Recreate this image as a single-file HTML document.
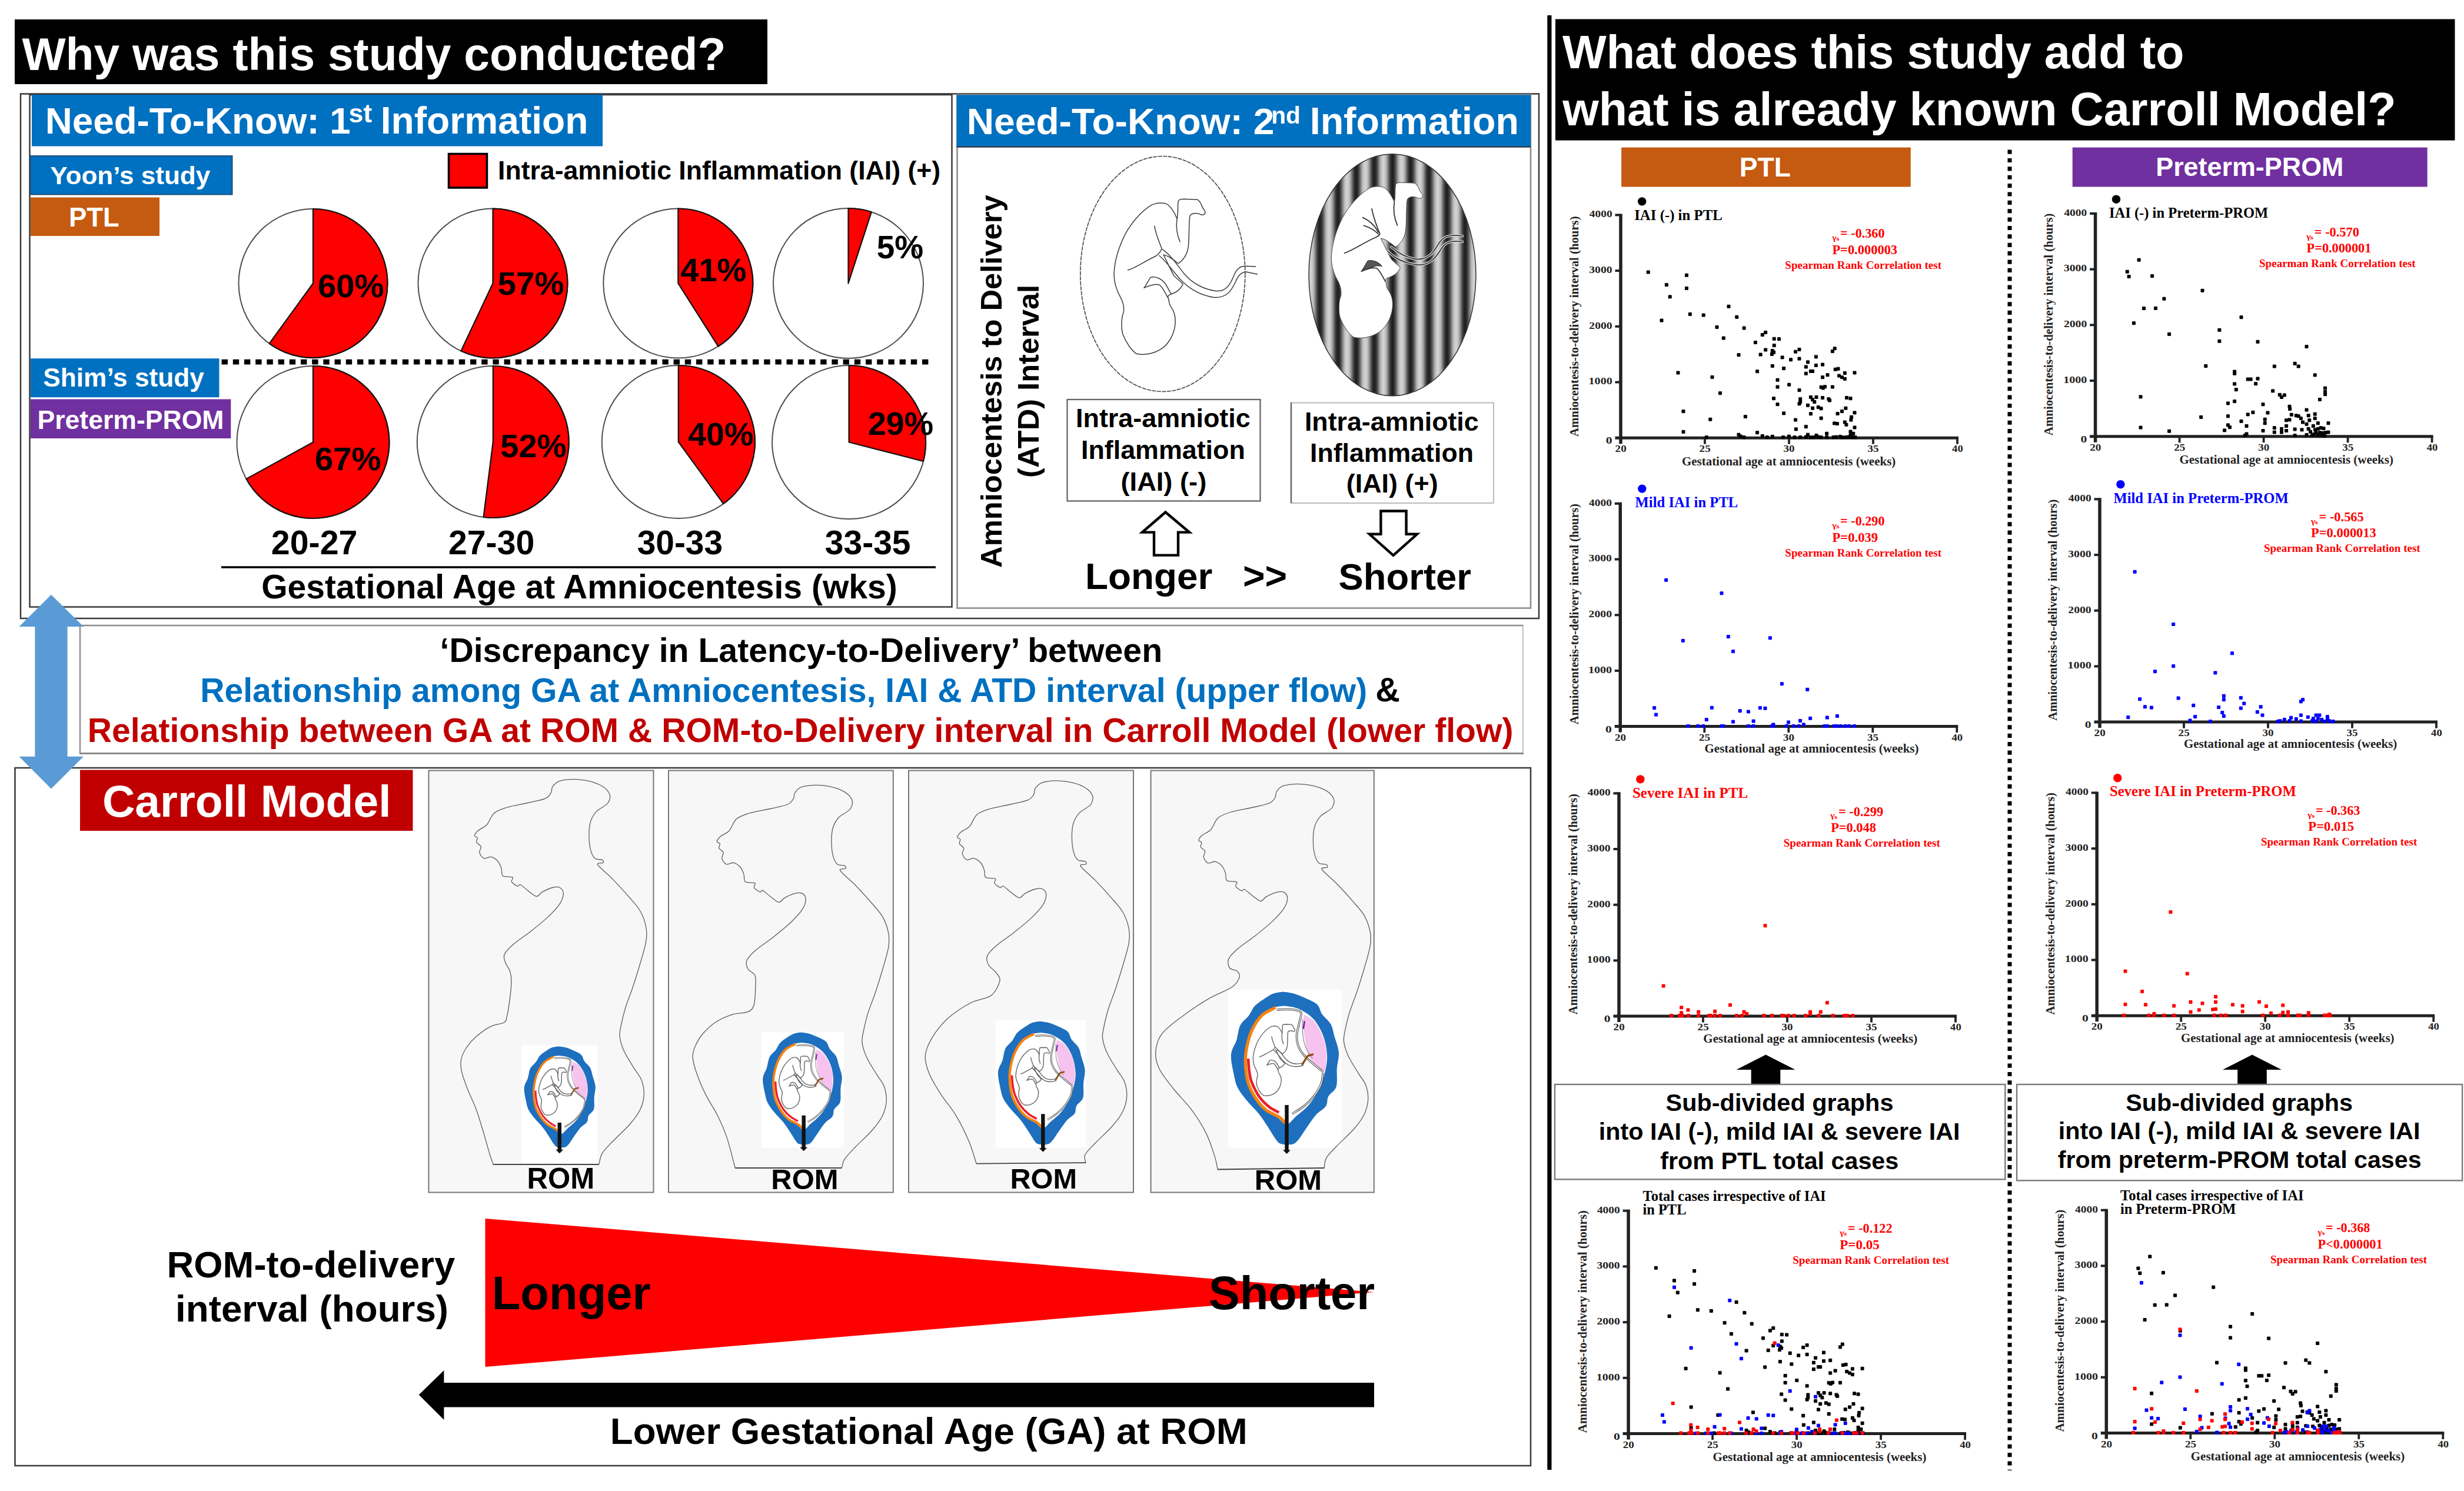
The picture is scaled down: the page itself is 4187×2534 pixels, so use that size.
<!DOCTYPE html>
<html><head><meta charset="utf-8"><title>Graphical abstract</title>
<style>html,body{margin:0;padding:0;background:#fff}svg{display:block}text{white-space:pre}</style></head>
<body><svg width="4187" height="2534" viewBox="0 0 4187 2534">
<rect width="4187" height="2534" fill="#fff"/>
<rect x="25.0" y="33.0" width="1279.0" height="110.0" fill="#000" stroke="none" stroke-width="0" />
<text x="37.4" y="118.5" font-family='"Liberation Sans", sans-serif' font-weight="bold" font-size="78.57" fill="#fff" textLength="1196.1" lengthAdjust="spacingAndGlyphs" >Why was this study conducted?</text>
<rect x="35.0" y="159.5" width="2580.0" height="891.5" fill="none" stroke="#3a3a3a" stroke-width="2.5" />
<rect x="50.5" y="161.0" width="1567.0" height="870.5" fill="none" stroke="#3a3a3a" stroke-width="2.5" />
<rect x="1626.5" y="161.0" width="974.5" height="872.5" fill="none" stroke="#8a8a8a" stroke-width="2.5" />
<rect x="54.0" y="161.0" width="970.0" height="87.5" fill="#0070C0" stroke="none" stroke-width="0" />
<text x="76.8" y="226.5" font-family='"Liberation Sans", sans-serif' font-weight="bold" font-size="63.12" fill="#fff" textLength="519.0" lengthAdjust="spacingAndGlyphs" >Need-To-Know: 1</text>
<text x="592.4" y="207.8" font-family='"Liberation Sans", sans-serif' font-weight="bold" font-size="44.55" fill="#fff" textLength="39.6" lengthAdjust="spacingAndGlyphs" >st</text>
<text x="646.7" y="226.5" font-family='"Liberation Sans", sans-serif' font-weight="bold" font-size="64.15" fill="#fff" textLength="352.8" lengthAdjust="spacingAndGlyphs" >Information</text>
<rect x="1625.5" y="161.5" width="975.5" height="87.5" fill="#0070C0" stroke="none" stroke-width="0" />
<line x1="1625.5" y1="249.8" x2="2601" y2="249.8" stroke="#333" stroke-width="2"/>
<text x="1642.7" y="227.7" font-family='"Liberation Sans", sans-serif' font-weight="bold" font-size="63.59" fill="#fff" textLength="522.8" lengthAdjust="spacingAndGlyphs" >Need-To-Know: 2</text>
<text x="2160.3" y="209.8" font-family='"Liberation Sans", sans-serif' font-weight="bold" font-size="40.37" fill="#fff" textLength="49.3" lengthAdjust="spacingAndGlyphs" >nd</text>
<text x="2225.7" y="227.7" font-family='"Liberation Sans", sans-serif' font-weight="bold" font-size="64.61" fill="#fff" textLength="355.3" lengthAdjust="spacingAndGlyphs" >Information</text>
<rect x="51.5" y="265.0" width="343.0" height="65.5" fill="#0070C0" stroke="#1f4e79" stroke-width="2" />
<text x="85.3" y="313.3" font-family='"Liberation Sans", sans-serif' font-weight="bold" font-size="43.32" fill="#fff" textLength="272.0" lengthAdjust="spacingAndGlyphs" >Yoon’s study</text>
<rect x="52.0" y="335.5" width="219.0" height="65.5" fill="#C55A11" stroke="none" stroke-width="0" />
<text x="117.0" y="384.6" font-family='"Liberation Sans", sans-serif' font-weight="bold" font-size="45.39" fill="#fff" textLength="85.7" lengthAdjust="spacingAndGlyphs" >PTL</text>
<rect x="51.9" y="609.2" width="320.6" height="66.0" fill="#0070C0" stroke="none" stroke-width="0" />
<text x="73.3" y="657.4" font-family='"Liberation Sans", sans-serif' font-weight="bold" font-size="43.95" fill="#fff" textLength="273.5" lengthAdjust="spacingAndGlyphs" >Shim’s study</text>
<rect x="51.9" y="678.5" width="340.4" height="66.5" fill="#7030A0" stroke="none" stroke-width="0" />
<text x="63.5" y="728.8" font-family='"Liberation Sans", sans-serif' font-weight="bold" font-size="44.55" fill="#fff" textLength="316.9" lengthAdjust="spacingAndGlyphs" >Preterm-PROM</text>
<rect x="762.5" y="261.5" width="65.0" height="57.5" fill="#FF0000" stroke="#000" stroke-width="3.5" />
<text x="846.0" y="305.0" font-family='"Liberation Sans", sans-serif' font-weight="bold" font-size="44.61" fill="#000" textLength="752.2" lengthAdjust="spacingAndGlyphs" >Intra-amniotic Inflammation (IAI) (+)</text>
<line x1="376.6" y1="615.2" x2="1586" y2="615.2" stroke="#000" stroke-width="8.8" stroke-dasharray="10.4 8.8"/>
<circle cx="532" cy="481.5" r="126.5" fill="#fff" stroke="#4d4d4d" stroke-width="2"/><path d="M532,481.5 L532,355.0 A126.5,126.5 0 1 1 457.6,583.8 Z" fill="#FF0000" stroke="#111" stroke-width="2.2" stroke-linejoin="round"/>
<circle cx="837.5" cy="481.5" r="127" fill="#fff" stroke="#4d4d4d" stroke-width="2"/><path d="M837.5,481.5 L837.5,354.5 A127,127 0 1 1 783.4,596.4 Z" fill="#FF0000" stroke="#111" stroke-width="2.2" stroke-linejoin="round"/>
<circle cx="1152.3" cy="481.5" r="127" fill="#fff" stroke="#4d4d4d" stroke-width="2"/><path d="M1152.3,481.5 L1152.3,354.5 A127,127 0 0 1 1220.4,588.7 Z" fill="#FF0000" stroke="#111" stroke-width="2.2" stroke-linejoin="round"/>
<circle cx="1441.5" cy="481.5" r="127.5" fill="#fff" stroke="#4d4d4d" stroke-width="2"/><path d="M1441.5,481.5 L1441.5,354.0 A127.5,127.5 0 0 1 1480.9,360.2 Z" fill="#FF0000" stroke="#111" stroke-width="2.2" stroke-linejoin="round"/>
<circle cx="532" cy="751.5" r="129.5" fill="#fff" stroke="#4d4d4d" stroke-width="2"/><path d="M532,751.5 L532,622.0 A129.5,129.5 0 1 1 418.5,813.9 Z" fill="#FF0000" stroke="#111" stroke-width="2.2" stroke-linejoin="round"/>
<circle cx="837.8" cy="751" r="129" fill="#fff" stroke="#4d4d4d" stroke-width="2"/><path d="M837.8,751 L837.8,622 A129,129 0 1 1 821.6,879.0 Z" fill="#FF0000" stroke="#111" stroke-width="2.2" stroke-linejoin="round"/>
<circle cx="1152.8" cy="751" r="130" fill="#fff" stroke="#4d4d4d" stroke-width="2"/><path d="M1152.8,751 L1152.8,621 A130,130 0 0 1 1229.2,856.2 Z" fill="#FF0000" stroke="#111" stroke-width="2.2" stroke-linejoin="round"/>
<circle cx="1442.6" cy="751.5" r="130.5" fill="#fff" stroke="#4d4d4d" stroke-width="2"/><path d="M1442.6,751.5 L1442.6,621.0 A130.5,130.5 0 0 1 1569.0,784.0 Z" fill="#FF0000" stroke="#111" stroke-width="2.2" stroke-linejoin="round"/>
<text x="539.9" y="505.0" font-family='"Liberation Sans", sans-serif' font-weight="bold" font-size="56.23" fill="#000" textLength="112.5" lengthAdjust="spacingAndGlyphs" >60%</text>
<text x="845.8" y="500.5" font-family='"Liberation Sans", sans-serif' font-weight="bold" font-size="56.32" fill="#000" textLength="112.7" lengthAdjust="spacingAndGlyphs" >57%</text>
<text x="1156.2" y="477.7" font-family='"Liberation Sans", sans-serif' font-weight="bold" font-size="56.12" fill="#000" textLength="112.3" lengthAdjust="spacingAndGlyphs" >41%</text>
<text x="1489.7" y="438.8" font-family='"Liberation Sans", sans-serif' font-weight="bold" font-size="54.96" fill="#000" textLength="79.4" lengthAdjust="spacingAndGlyphs" >5%</text>
<text x="534.9" y="799.0" font-family='"Liberation Sans", sans-serif' font-weight="bold" font-size="56.23" fill="#000" textLength="112.5" lengthAdjust="spacingAndGlyphs" >67%</text>
<text x="850.3" y="776.5" font-family='"Liberation Sans", sans-serif' font-weight="bold" font-size="56.06" fill="#000" textLength="112.2" lengthAdjust="spacingAndGlyphs" >52%</text>
<text x="1169.2" y="757.0" font-family='"Liberation Sans", sans-serif' font-weight="bold" font-size="55.61" fill="#000" textLength="111.3" lengthAdjust="spacingAndGlyphs" >40%</text>
<text x="1474.9" y="739.0" font-family='"Liberation Sans", sans-serif' font-weight="bold" font-size="55.50" fill="#000" textLength="111.1" lengthAdjust="spacingAndGlyphs" >29%</text>
<text x="460.8" y="942.0" font-family='"Liberation Sans", sans-serif' font-weight="bold" font-size="57.36" fill="#000" textLength="146.7" lengthAdjust="spacingAndGlyphs" >20-27</text>
<text x="762.0" y="942.0" font-family='"Liberation Sans", sans-serif' font-weight="bold" font-size="57.21" fill="#000" textLength="146.3" lengthAdjust="spacingAndGlyphs" >27-30</text>
<text x="1082.7" y="942.0" font-family='"Liberation Sans", sans-serif' font-weight="bold" font-size="56.83" fill="#000" textLength="145.4" lengthAdjust="spacingAndGlyphs" >30-33</text>
<text x="1401.7" y="942.0" font-family='"Liberation Sans", sans-serif' font-weight="bold" font-size="57.04" fill="#000" textLength="145.9" lengthAdjust="spacingAndGlyphs" >33-35</text>
<line x1="376" y1="964" x2="1590" y2="964" stroke="#000" stroke-width="3.5"/>
<text x="444.2" y="1016.7" font-family='"Liberation Sans", sans-serif' font-weight="bold" font-size="56.86" fill="#000" textLength="1080.7" lengthAdjust="spacingAndGlyphs" >Gestational Age at Amniocentesis (wks)</text>
<text transform="translate(1702.3,964.9) rotate(-90)" x="0" y="0" font-family='"Liberation Sans", sans-serif' font-weight="bold" font-size="50.67" fill="#000" textLength="633.6" lengthAdjust="spacingAndGlyphs">Amniocentesis to Delivery</text>
<text transform="translate(1764.5,811.9) rotate(-90)" x="0" y="0" font-family='"Liberation Sans", sans-serif' font-weight="bold" font-size="50.03" fill="#000" textLength="328.0" lengthAdjust="spacingAndGlyphs">(ATD) Interval</text>
<ellipse cx="1975.8" cy="465.5" rx="140" ry="200" fill="#fff" stroke="#444" stroke-width="1.6" stroke-dasharray="7 1.5"/>
<path d="M2002.2,342.1 C2003.7,338.6 2006.6,338.3 2012.5,338.3 L2034.7,339.2 C2039.1,342.1 2041.5,347.4 2043.5,352.7 C2045.6,356.3 2048.6,358.6 2048.0,362.2 C2045.6,366.3 2041.5,365.7 2037.6,363.4 C2031.7,361.6 2024.9,362.2 2022.0,366.9 C2019.6,379.9 2021.4,403.5 2019.0,421.2 C2017.0,433.6 2010.2,442.5 2002.2,447.8 C1994.8,441.9 1986.0,434.5 1977.1,433.0 C1983.0,444.8 1988.9,458.1 1994.8,468.5 C2000.7,474.4 2006.6,478.8 2010.2,483.2 C2006.6,489.7 2002.2,495.6 1990.4,499.7 C1986.6,500.9 1983.6,503.3 1984.8,506.2 C1987.2,509.8 1985.4,514.2 1988.9,520.1 C1993.4,526.0 1997.2,533.4 1997.2,545.2 C1997.2,562.9 1988.9,582.1 1974.2,592.4 C1960.9,601.3 1944.6,604.2 1931.4,601.3 C1924.0,596.9 1913.7,583.6 1907.7,567.3 C1904.8,557.0 1905.7,537.8 1909.2,531.0 C1910.4,524.5 1909.2,515.7 1904.8,506.8 C1898.9,496.5 1893.0,483.2 1893.0,465.5 C1893.9,441.9 1901.8,418.3 1912.2,397.6 C1924.0,376.9 1938.7,360.7 1953.5,350.4 C1962.4,344.5 1971.2,343.9 1980.7,345.9 C1988.9,348.9 1996.3,362.2 2000.1,371.6 C2002.5,362.2 2000.7,350.4 2002.2,342.1 Z" fill="none" stroke="#3c3c3c" stroke-width="1.5" stroke-linecap="round" stroke-linejoin="round"/>
<path d="M2000.1,371.6 C1998.4,382.8 1999.3,397.6 2005.2,410.9" fill="none" stroke="#3c3c3c" stroke-width="1.5" stroke-linecap="round" stroke-linejoin="round"/>
<path d="M1961.8,384.3 C1963.8,397.6 1969.7,410.9 1974.2,422.7" fill="none" stroke="#3c3c3c" stroke-width="1.5" stroke-linecap="round" stroke-linejoin="round"/>
<path d="M1916.6,459.0 C1926.9,456.6 1941.7,446.3 1959.4,437.5 C1966.8,434.5 1971.2,430.1 1974.2,422.7" fill="none" stroke="#3c3c3c" stroke-width="1.5" stroke-linecap="round" stroke-linejoin="round"/>
<path d="M1944.1,489.1 C1947.6,484.7 1951.1,477.3 1955.0,471.4 C1962.4,469.0 1972.7,472.9 1978.6,480.3 C1984.5,487.6 1986.6,495.0 1990.4,499.7" fill="none" stroke="#3c3c3c" stroke-width="1.5" stroke-linecap="round" stroke-linejoin="round"/>
<path d="M1944.1,489.1 C1950.6,486.2 1960.9,482.0 1969.7,483.8 C1975.9,487.6 1978.9,496.5 1984.8,506.2" fill="none" stroke="#3c3c3c" stroke-width="1.5" stroke-linecap="round" stroke-linejoin="round"/>
<path d="M1975.6,424.2 C1988.9,433.0 2000.7,450.7 2012.5,465.5 C2027.3,483.2 2048.0,492.1 2065.7,494.4 C2083.4,496.5 2090.8,483.2 2096.7,468.5 C2101.1,456.6 2108.5,452.2 2115.9,452.2 L2133.6,453.1" fill="none" stroke="#3c3c3c" stroke-width="1.5" stroke-linecap="round" stroke-linejoin="round"/>
<path d="M1969.7,434.5 C1980.1,441.9 1991.9,459.6 2006.6,475.8 C2024.4,495.0 2045.0,502.4 2062.7,505.4 C2083.4,506.8 2092.3,495.0 2099.6,478.8 C2104.1,467.0 2110.0,462.5 2117.3,462.0 L2136.5,466.1" fill="none" stroke="#3c3c3c" stroke-width="1.5" stroke-linecap="round" stroke-linejoin="round"/>
<defs><linearGradient id="stripe" gradientUnits="userSpaceOnUse" x1="2304.47" y1="0" x2="2319.90" y2="0" spreadMethod="reflect"><stop offset="0" stop-color="#1c1c1c"/><stop offset="0.25" stop-color="#3a3a3a"/><stop offset="0.7" stop-color="#b8b8b8"/><stop offset="1" stop-color="#d6d6d6"/></linearGradient><clipPath id="ov2"><ellipse cx="2366" cy="467.3" rx="142" ry="205.5"/></clipPath></defs>
<ellipse cx="2366" cy="467.3" rx="142" ry="205.5" fill="url(#stripe)" stroke="#333" stroke-width="1.5"/>
<path d="M2371.5,314.1 C2373.0,310.6 2375.9,310.3 2381.8,310.3 L2404.0,311.2 C2408.4,314.1 2410.8,319.4 2412.8,324.7 C2414.9,328.3 2417.9,330.6 2417.3,334.2 C2414.9,338.3 2410.8,337.7 2406.9,335.4 C2401.0,333.6 2394.2,334.2 2391.3,338.9 C2388.9,351.9 2390.7,375.5 2388.3,393.2 C2386.3,405.6 2379.5,414.5 2371.5,419.8 C2364.1,413.9 2355.3,406.5 2346.4,405.0 C2352.3,416.8 2358.2,430.1 2364.1,440.5 C2370.0,446.4 2375.9,450.8 2379.5,455.2 C2375.9,461.7 2371.5,467.6 2359.7,471.7 C2355.9,472.9 2352.9,475.3 2354.1,478.2 C2356.5,481.8 2354.7,486.2 2358.2,492.1 C2362.7,498.0 2366.5,505.4 2366.5,517.2 C2366.5,534.9 2358.2,554.1 2343.5,564.4 C2330.2,573.3 2313.9,576.2 2300.7,573.3 C2293.3,568.9 2283.0,555.6 2277.0,539.3 C2274.1,529.0 2275.0,509.8 2278.5,503.0 C2279.7,496.5 2278.5,487.7 2274.1,478.8 C2268.2,468.5 2262.3,455.2 2262.3,437.5 C2263.2,413.9 2271.1,390.3 2281.5,369.6 C2293.3,348.9 2308.0,332.7 2322.8,322.4 C2331.7,316.5 2340.5,315.9 2350.0,317.9 C2358.2,320.9 2365.6,334.2 2369.4,343.6 C2371.8,334.2 2370.0,322.4 2371.5,314.1 Z" fill="#fff" stroke="#444" stroke-width="1"/>
<path d="M2369.4,343.6 C2367.7,354.8 2368.6,369.6 2374.5,382.9" fill="none" stroke="#333" stroke-width="1.8" stroke-linecap="round" stroke-linejoin="round"/>
<path d="M2313.4,461.1 C2316.9,456.7 2320.4,449.3 2324.3,443.4 C2331.7,441.0 2342.0,444.9 2347.9,452.3 C2342.0,450.8 2334.6,451.7 2330.2,455.2 C2322.8,456.7 2318.4,459.0 2313.4,461.1 Z" fill="#555" stroke="#333" stroke-width="1.2"/>
<path d="M2313.4,461.1 C2319.9,458.2 2330.2,454.0 2339.0,455.8 C2345.2,459.6 2348.2,468.5 2354.1,478.2" fill="none" stroke="#333" stroke-width="1.8" stroke-linecap="round" stroke-linejoin="round"/>
<path d="M2331.1,354.8 C2333.2,368.1 2339.1,382.8 2343.5,394.6" fill="none" stroke="#333" stroke-width="1.8" stroke-linecap="round" stroke-linejoin="round"/>
<path d="M2315.5,369.6 C2325.8,374.0 2336.1,382.8 2342.0,394.6" fill="none" stroke="#333" stroke-width="1.8" stroke-linecap="round" stroke-linejoin="round"/>
<path d="M2317.5,383.4 C2327.3,386.4 2336.1,391.7 2342.0,397.6" fill="none" stroke="#333" stroke-width="1.8" stroke-linecap="round" stroke-linejoin="round"/>
<path d="M2284.5,430.1 C2299.2,425.6 2316.9,412.4 2337.6,403.5 C2343.5,400.6 2346.5,397.6 2343.5,394.6" fill="none" stroke="#333" stroke-width="1.8" stroke-linecap="round" stroke-linejoin="round"/>
<path d="M2364.2,419.7 C2376.0,430.1 2390.7,438.9 2408.5,440.4 C2426.2,441.3 2435.0,430.1 2443.9,415.3 C2451.3,402.0 2461.6,397.6 2485.2,401.1" fill="none" stroke="#d8d8d8" stroke-width="4.2" stroke-linecap="round"/>
<path d="M2364.2,419.7 C2376.0,430.1 2390.7,438.9 2408.5,440.4 C2426.2,441.3 2435.0,430.1 2443.9,415.3 C2451.3,402.0 2461.6,397.6 2485.2,401.1" fill="none" stroke="#2a2a2a" stroke-width="1.6" stroke-linecap="round"/>
<path d="M2358.3,427.1 C2371.5,440.4 2387.8,447.8 2408.5,450.1 C2429.1,451.3 2439.4,438.9 2448.3,424.2 C2455.7,411.8 2464.5,407.9 2485.2,410.9" fill="none" stroke="#d8d8d8" stroke-width="4.2" stroke-linecap="round"/>
<path d="M2358.3,427.1 C2371.5,440.4 2387.8,447.8 2408.5,450.1 C2429.1,451.3 2439.4,438.9 2448.3,424.2 C2455.7,411.8 2464.5,407.9 2485.2,410.9" fill="none" stroke="#2a2a2a" stroke-width="1.6" stroke-linecap="round"/>
<rect x="1813.5" y="679.0" width="328.0" height="172.5" fill="none" stroke="#666" stroke-width="2.3" />
<text x="1828.0" y="726.0" font-family='"Liberation Sans", sans-serif' font-weight="bold" font-size="44.88" fill="#000" textLength="296.7" lengthAdjust="spacingAndGlyphs" >Intra-amniotic</text>
<text x="1837.0" y="780.0" font-family='"Liberation Sans", sans-serif' font-weight="bold" font-size="44.80" fill="#000" textLength="278.8" lengthAdjust="spacingAndGlyphs" >Inflammation</text>
<text x="1904.5" y="833.8" font-family='"Liberation Sans", sans-serif' font-weight="bold" font-size="45.24" fill="#000" textLength="145.7" lengthAdjust="spacingAndGlyphs" >(IAI) (-)</text>
<rect x="2194.0" y="684.5" width="344.0" height="170.5" fill="none" stroke="#bbb" stroke-width="2" />
<line x1="2194" y1="684" x2="2194" y2="855" stroke="#666" stroke-width="2.5"/>
<text x="2216.9" y="732.0" font-family='"Liberation Sans", sans-serif' font-weight="bold" font-size="44.74" fill="#000" textLength="295.8" lengthAdjust="spacingAndGlyphs" >Intra-amniotic</text>
<text x="2226.0" y="785.1" font-family='"Liberation Sans", sans-serif' font-weight="bold" font-size="44.67" fill="#000" textLength="278.0" lengthAdjust="spacingAndGlyphs" >Inflammation</text>
<text x="2287.8" y="837.4" font-family='"Liberation Sans", sans-serif' font-weight="bold" font-size="44.87" fill="#000" textLength="155.8" lengthAdjust="spacingAndGlyphs" >(IAI) (+)</text>
<path d="M1980.5,870.5 L2021,904.6 L2002,904.6 L2002,943.6 L1961,943.6 L1961,904.6 L1941,904.6 Z" fill="#fff" stroke="#000" stroke-width="4.4" stroke-linejoin="miter"/>
<path d="M2346.4,868.5 L2389.6,868.5 L2389.6,907.8 L2408,907.8 L2367.6,943.8 L2327,907.8 L2346.4,907.8 Z" fill="#fff" stroke="#000" stroke-width="4.4" stroke-linejoin="miter"/>
<text x="1844.1" y="1001.0" font-family='"Liberation Sans", sans-serif' font-weight="bold" font-size="63.81" fill="#000" textLength="216.2" lengthAdjust="spacingAndGlyphs" >Longer</text>
<text x="2111.9" y="1001.0" font-family='"Liberation Sans", sans-serif' font-weight="bold" font-size="64.31" fill="#000" textLength="75.1" lengthAdjust="spacingAndGlyphs" >&gt;&gt;</text>
<text x="2274.5" y="1002.4" font-family='"Liberation Sans", sans-serif' font-weight="bold" font-size="63.41" fill="#000" textLength="225.5" lengthAdjust="spacingAndGlyphs" >Shorter</text>
<rect x="136.0" y="1063.0" width="2452.0" height="217.5" fill="#fff" stroke="#c4c4c4" stroke-width="2.2" />
<path d="M136,1280.5 L136,1063 L2588,1063" fill="none" stroke="#8e8e8e" stroke-width="2.4"/>
<line x1="135" y1="1280.5" x2="2589" y2="1280.5" stroke="#8a8a8a" stroke-width="3"/>
<text x="747.5" y="1125.0" font-family='"Liberation Sans", sans-serif' font-weight="bold" font-size="57.08" fill="#000" textLength="1227.6" lengthAdjust="spacingAndGlyphs" >‘Discrepancy in Latency-to-Delivery’ between</text>
<text x="340.2" y="1192.7" font-family='"Liberation Sans", sans-serif' font-weight="bold" font-size="56.84" fill="#0070C0" textLength="1983.1" lengthAdjust="spacingAndGlyphs" >Relationship among GA at Amniocentesis, IAI &amp; ATD interval (upper flow)</text>
<text x="2337.3" y="1192.3" font-family='"Liberation Sans", sans-serif' font-weight="bold" font-size="57.81" fill="#000" textLength="41.7" lengthAdjust="spacingAndGlyphs" >&amp;</text>
<text x="148.8" y="1260.8" font-family='"Liberation Sans", sans-serif' font-weight="bold" font-size="57.07" fill="#C00000" textLength="2422.6" lengthAdjust="spacingAndGlyphs" >Relationship between GA at ROM &amp; ROM-to-Delivery interval in Carroll Model (lower flow)</text>
<rect x="25.5" y="1305.0" width="2575.5" height="1186.0" fill="none" stroke="#3a3a3a" stroke-width="2.5" />
<rect x="136.0" y="1308.5" width="565.5" height="103.5" fill="#C00000" stroke="none" stroke-width="0" />
<text x="173.9" y="1388.4" font-family='"Liberation Sans", sans-serif' font-weight="bold" font-size="76.78" fill="#fff" textLength="490.6" lengthAdjust="spacingAndGlyphs" >Carroll Model</text>
<path d="M87,1010.8 L142,1065 L114.6,1065 L114.6,1285.8 L142,1285.8 L87,1340.4 L32.5,1285.8 L59.4,1285.8 L59.4,1065 L32.5,1065 Z" fill="#5B9BD5"/>
<rect x="728.5" y="1309.5" width="382.0" height="717.0" fill="#f7f7f7" stroke="#777" stroke-width="2" />
<rect x="886.3" y="1776.5" width="129.0" height="200.5" fill="#fff"/>
<path d="M838.1,1979.0 C837.1,1975.9 834.4,1969.1 831.7,1960.2 C829.0,1951.2 825.5,1937.8 821.8,1925.4 C818.0,1913.0 813.9,1898.1 809.3,1885.7 C804.8,1873.3 798.6,1861.7 794.5,1851.0 C790.3,1840.2 786.3,1829.5 784.5,1821.2 C782.7,1812.9 782.3,1808.0 783.5,1801.3 C784.8,1794.7 787.7,1788.1 792.0,1781.5 C796.3,1774.9 802.3,1767.8 809.3,1761.6 C816.4,1755.4 826.3,1748.2 834.2,1744.3 C842.0,1740.3 852.0,1740.7 856.5,1737.8 C861.1,1734.9 859.8,1733.7 861.5,1726.9 C863.1,1720.1 865.2,1707.0 866.4,1697.1 C867.7,1687.2 868.9,1675.2 868.9,1667.3 C868.9,1659.5 868.0,1654.9 866.4,1649.9 C864.9,1645.0 861.1,1642.1 859.5,1637.5 C857.9,1633.0 854.9,1628.0 857.0,1622.6 C859.1,1617.3 864.4,1611.9 871.9,1605.3 C879.3,1598.7 891.7,1590.8 901.7,1582.9 C911.6,1575.1 923.2,1566.0 931.5,1558.1 C939.7,1550.3 947.0,1542.4 951.3,1535.8 C955.6,1529.2 957.3,1523.0 957.3,1518.4 C957.3,1513.9 954.4,1510.1 951.3,1508.5 C948.3,1506.8 943.9,1507.2 938.9,1508.5 C933.9,1509.7 926.1,1513.4 921.5,1515.9 C917.0,1518.4 915.7,1523.8 911.6,1523.4 C907.5,1523.0 901.3,1516.8 896.7,1513.4 C892.2,1510.1 887.2,1504.8 884.3,1503.5 C881.4,1502.3 881.8,1506.8 879.3,1506.0 C876.9,1505.2 870.8,1501.0 869.4,1498.6 C868.0,1496.1 873.4,1492.8 870.9,1491.1 C868.4,1489.5 857.7,1491.1 854.5,1488.6 C851.4,1486.1 853.4,1480.4 852.0,1476.2 C850.6,1472.1 849.0,1467.1 846.1,1463.8 C843.2,1460.5 838.6,1457.2 834.7,1456.4 C830.7,1455.5 825.6,1460.1 822.3,1458.8 C818.9,1457.6 815.6,1452.2 814.8,1448.9 C814.0,1445.6 818.1,1441.9 817.3,1439.0 C816.5,1436.1 810.8,1434.0 809.8,1431.5 C808.9,1429.1 811.9,1426.0 811.3,1424.1 C810.8,1422.2 806.2,1422.2 806.4,1420.1 C806.5,1418.1 808.9,1414.7 812.3,1411.7 C815.8,1408.6 822.7,1406.7 827.2,1401.8 C831.8,1396.8 833.8,1386.9 839.6,1381.9 C845.4,1376.9 852.4,1374.9 862.0,1372.0 C871.5,1369.1 886.0,1367.0 896.7,1364.5 C907.5,1362.0 919.9,1360.0 926.5,1357.1 C933.1,1354.2 934.4,1350.5 936.4,1347.2 C938.5,1343.8 936.4,1340.5 938.9,1337.2 C941.4,1333.9 943.9,1329.4 951.3,1327.3 C958.8,1325.2 972.8,1324.0 983.6,1324.8 C994.3,1325.6 1007.3,1328.5 1015.8,1332.3 C1024.4,1336.0 1031.8,1341.8 1034.7,1347.2 C1037.6,1352.5 1036.8,1359.2 1033.2,1364.5 C1029.7,1369.9 1018.3,1374.0 1013.4,1379.4 C1008.4,1384.8 1005.5,1390.2 1003.4,1396.8 C1001.4,1403.4 1000.9,1411.3 1000.9,1419.1 C1000.9,1427.0 1001.8,1437.3 1003.4,1443.9 C1005.1,1450.6 1007.6,1455.9 1010.9,1458.8 C1014.2,1461.7 1021.0,1460.1 1023.3,1461.3 C1025.6,1462.6 1026.0,1464.9 1024.8,1466.3 C1023.5,1467.7 1013.2,1465.2 1015.8,1469.8 C1018.5,1474.3 1032.0,1484.7 1040.7,1493.6 C1049.3,1502.5 1060.1,1514.3 1068.0,1523.4 C1075.8,1532.5 1082.9,1539.5 1087.8,1548.2 C1092.8,1556.9 1096.1,1566.8 1097.7,1575.5 C1099.4,1584.2 1099.4,1590.0 1097.7,1600.3 C1096.1,1610.6 1091.5,1624.7 1087.8,1637.5 C1084.1,1650.4 1079.5,1664.8 1075.4,1677.2 C1071.3,1689.7 1066.3,1701.2 1063.0,1712.0 C1059.7,1722.7 1057.2,1733.5 1055.6,1741.8 C1053.9,1750.0 1052.2,1754.2 1053.1,1761.6 C1053.9,1769.1 1056.4,1777.3 1060.5,1786.4 C1064.7,1795.5 1072.9,1808.0 1077.9,1816.2 C1082.9,1824.5 1087.6,1828.6 1090.3,1836.1 C1093.0,1843.5 1094.7,1852.6 1094.3,1860.9 C1093.9,1869.2 1091.8,1877.5 1087.8,1885.7 C1083.8,1894.0 1078.3,1901.4 1070.4,1910.5 C1062.6,1919.6 1048.5,1932.1 1040.7,1940.3 C1032.8,1948.6 1027.1,1953.7 1023.3,1960.2 C1019.5,1966.6 1018.7,1975.9 1017.8,1979.0" fill="none" stroke="#5e5e5e" stroke-width="1.3" stroke-linejoin="round"/>
<line x1="838.1" y1="1979.0" x2="1017.8" y2="1979.0" stroke="#444" stroke-width="1.8"/>
<path d="M949.2,1778.2 C951.2,1778.6 957.2,1779.0 961.6,1780.3 C965.9,1781.5 971.0,1783.7 975.3,1785.8 C979.7,1787.9 984.7,1789.7 987.7,1792.7 C990.7,1795.7 990.7,1800.0 993.2,1803.7 C995.7,1807.4 1000.6,1810.6 1002.9,1814.7 C1005.2,1818.8 1005.5,1823.2 1007.0,1828.5 C1008.5,1833.7 1011.3,1840.4 1011.8,1846.4 C1012.3,1852.3 1010.2,1857.8 1009.7,1864.3 C1009.3,1870.7 1010.7,1879.6 1009.1,1884.9 C1007.4,1890.2 1002.1,1892.3 1000.1,1895.9 C998.2,1899.6 999.6,1903.5 997.4,1906.9 C995.1,1910.4 990.0,1912.4 986.3,1916.6 C982.7,1920.7 978.8,1926.9 975.3,1931.7 C971.9,1936.5 968.4,1942.5 965.7,1945.5 C962.9,1948.5 962.0,1949.3 958.8,1949.9 C955.6,1950.5 949.4,1950.2 946.4,1949.2 C943.4,1948.2 943.4,1947.5 940.9,1944.1 C938.4,1940.7 934.5,1933.8 931.3,1929.0 C928.1,1924.1 925.5,1920.0 921.6,1915.2 C917.7,1910.4 911.8,1904.9 907.9,1900.1 C904.0,1895.2 900.5,1890.9 898.2,1886.3 C895.9,1881.7 895.4,1878.7 894.1,1872.5 C892.8,1866.3 890.2,1855.8 890.7,1849.1 C891.1,1842.5 895.1,1838.1 896.9,1832.6 C898.6,1827.1 898.7,1820.7 901.0,1816.1 C903.3,1811.5 907.9,1808.7 910.6,1805.1 C913.4,1801.4 914.5,1797.3 917.5,1794.0 C920.5,1790.8 925.1,1788.1 928.5,1785.8 C932.0,1783.5 934.7,1781.5 938.2,1780.3 C941.6,1779.0 947.3,1778.6 949.2,1778.2Z" fill="#1E6FBE"/>
<path d="M950.5,1794.0 C953.3,1794.6 961.6,1795.0 967.1,1797.5 C972.6,1800.0 979.0,1804.0 983.6,1809.2 C988.2,1814.4 992.1,1821.6 994.6,1828.5 C997.1,1835.3 998.5,1843.6 998.7,1850.5 C999.0,1857.4 997.6,1863.3 996.0,1869.8 C994.4,1876.2 992.1,1883.1 989.1,1889.0 C986.1,1895.0 982.2,1900.7 978.1,1905.6 C974.0,1910.4 968.4,1914.3 964.3,1917.9 C960.2,1921.6 957.0,1927.1 953.3,1927.3 C949.6,1927.5 946.4,1922.0 942.3,1919.3 C938.2,1916.6 932.6,1914.5 928.5,1911.1 C924.4,1907.6 920.7,1903.7 917.5,1898.7 C914.3,1893.6 911.2,1887.7 909.2,1880.8 C907.3,1873.9 906.0,1864.7 905.8,1857.4 C905.6,1850.0 906.4,1843.1 907.9,1836.7 C909.4,1830.3 911.8,1824.3 914.8,1818.8 C917.7,1813.3 921.9,1807.5 925.8,1803.7 C929.7,1799.9 934.0,1797.7 938.2,1796.1 C942.3,1794.5 948.5,1794.4 950.5,1794.0Z" fill="#fff"/>
<path d="M972.6,1804.0 C974.4,1805.1 980.1,1807.0 983.6,1810.8 C987.0,1814.7 990.8,1821.2 993.2,1827.1 C995.6,1833.0 997.5,1839.7 997.9,1846.4 C998.3,1853.1 997.6,1864.8 995.7,1867.3 C993.8,1869.8 989.3,1864.3 986.3,1861.5 C983.4,1858.7 980.0,1854.6 978.1,1850.5 C976.1,1846.4 975.6,1841.3 974.6,1836.7 C973.7,1832.1 973.1,1827.1 972.6,1823.0 C972.1,1818.8 971.7,1815.1 971.7,1811.9 C971.7,1808.8 972.4,1805.3 972.6,1804.0Z" fill="#F6C3EE"/>
<path d="M940.9,1795.8 C938.4,1797.3 930.1,1800.3 925.8,1804.4 C921.4,1808.4 917.6,1814.4 914.8,1820.2 C911.9,1826.1 909.9,1833.3 908.6,1839.5 C907.2,1845.7 906.5,1850.5 906.8,1857.4 C907.0,1864.3 907.9,1873.9 909.9,1880.8 C912.0,1887.7 915.6,1893.6 918.9,1898.7 C922.2,1903.7 925.5,1907.6 929.9,1911.1 C934.3,1914.5 941.4,1916.8 945.0,1919.3 C948.7,1921.8 950.5,1925.1 951.6,1926.2" fill="none" stroke="#F5820F" stroke-width="3.4" stroke-linecap="butt"/>
<path d="M909.9,1853.5 C910.1,1855.8 910.4,1862.7 911.0,1867.0 C911.7,1871.4 911.9,1874.8 913.8,1879.7 C915.7,1884.5 919.1,1891.6 922.3,1896.2 C925.5,1900.8 929.4,1904.4 933.1,1907.3 C936.8,1910.3 942.6,1913.0 944.5,1914.1" fill="none" stroke="#E8202A" stroke-width="3.0"/>
<path d="M942.3,1798.5 C944.1,1798.4 949.6,1797.8 953.3,1797.9 C957.0,1798.0 961.6,1798.3 964.3,1799.0 C967.0,1799.7 969.0,1799.9 969.5,1802.3 C970.0,1804.7 968.2,1809.2 967.3,1813.3 C966.5,1817.5 964.8,1823.0 964.6,1827.1 C964.4,1831.2 964.9,1834.7 966.0,1838.1 C967.1,1841.5 968.7,1844.5 971.2,1847.7 C973.7,1851.0 977.0,1853.9 980.8,1857.4 C984.7,1860.8 992.1,1866.6 994.3,1868.4" fill="none" stroke="#555" stroke-width="2.4"/>
<path d="M942.3,1798.5 C944.1,1798.4 949.6,1797.8 953.3,1797.9 C957.0,1798.0 961.6,1798.3 964.3,1799.0 C967.0,1799.7 969.0,1799.9 969.5,1802.3 C970.0,1804.7 968.2,1809.2 967.3,1813.3 C966.5,1817.5 964.8,1823.0 964.6,1827.1 C964.4,1831.2 964.9,1834.7 966.0,1838.1 C967.1,1841.5 968.7,1844.5 971.2,1847.7 C973.7,1851.0 977.0,1853.9 980.8,1857.4 C984.7,1860.8 992.1,1866.6 994.3,1868.4" fill="none" stroke="#eee" stroke-width="1.0"/>
<path d="M994.3,1869.1 C993.9,1871.3 993.6,1877.7 991.8,1882.2 C990.1,1886.6 986.8,1891.8 983.6,1895.9 C980.4,1900.1 976.6,1903.7 972.6,1906.9 C968.6,1910.2 961.7,1914.0 959.5,1915.5" fill="none" stroke="#555" stroke-width="2.4"/>
<path d="M994.3,1869.1 C993.9,1871.3 993.6,1877.7 991.8,1882.2 C990.1,1886.6 986.8,1891.8 983.6,1895.9 C980.4,1900.1 976.6,1903.7 972.6,1906.9 C968.6,1910.2 961.7,1914.0 959.5,1915.5" fill="none" stroke="#eee" stroke-width="1.0"/>
<path d="M971.2,1809.2 C971.2,1811.5 971.0,1818.8 971.2,1823.0 C971.4,1827.1 971.7,1830.3 972.6,1834.0 C973.5,1837.6 975.1,1841.8 976.7,1845.0 C978.3,1848.2 981.3,1851.9 982.2,1853.2" fill="none" stroke="#888" stroke-width="0.8"/>
<path d="M973.4,1811.3 C973.2,1812.7 972.3,1818.5 972.0,1819.9" fill="none" stroke="#7B1FA2" stroke-width="1.7"/>
<path d="M982.5,1848.8 C981.6,1849.1 978.4,1849.5 977.0,1850.5 C975.6,1851.5 975.0,1853.3 974.0,1854.9 C972.9,1856.5 971.4,1859.0 970.9,1859.9" fill="none" stroke="#8B4A12" stroke-width="2.3" stroke-linecap="round"/>
<g transform="translate(915.4,1814.7) scale(0.305) translate(-1893,-338.3)"><path d="M2002.2,342.1 C2003.7,338.6 2006.6,338.3 2012.5,338.3 L2034.7,339.2 C2039.1,342.1 2041.5,347.4 2043.5,352.7 C2045.6,356.3 2048.6,358.6 2048.0,362.2 C2045.6,366.3 2041.5,365.7 2037.6,363.4 C2031.7,361.6 2024.9,362.2 2022.0,366.9 C2019.6,379.9 2021.4,403.5 2019.0,421.2 C2017.0,433.6 2010.2,442.5 2002.2,447.8 C1994.8,441.9 1986.0,434.5 1977.1,433.0 C1983.0,444.8 1988.9,458.1 1994.8,468.5 C2000.7,474.4 2006.6,478.8 2010.2,483.2 C2006.6,489.7 2002.2,495.6 1990.4,499.7 C1986.6,500.9 1983.6,503.3 1984.8,506.2 C1987.2,509.8 1985.4,514.2 1988.9,520.1 C1993.4,526.0 1997.2,533.4 1997.2,545.2 C1997.2,562.9 1988.9,582.1 1974.2,592.4 C1960.9,601.3 1944.6,604.2 1931.4,601.3 C1924.0,596.9 1913.7,583.6 1907.7,567.3 C1904.8,557.0 1905.7,537.8 1909.2,531.0 C1910.4,524.5 1909.2,515.7 1904.8,506.8 C1898.9,496.5 1893.0,483.2 1893.0,465.5 C1893.9,441.9 1901.8,418.3 1912.2,397.6 C1924.0,376.9 1938.7,360.7 1953.5,350.4 C1962.4,344.5 1971.2,343.9 1980.7,345.9 C1988.9,348.9 1996.3,362.2 2000.1,371.6 C2002.5,362.2 2000.7,350.4 2002.2,342.1 Z" fill="none" stroke="#666" stroke-width="4.60" stroke-linecap="round"/><path d="M2000.1,371.6 C1998.4,382.8 1999.3,397.6 2005.2,410.9" fill="none" stroke="#666" stroke-width="4.60" stroke-linecap="round"/><path d="M1961.8,384.3 C1963.8,397.6 1969.7,410.9 1974.2,422.7" fill="none" stroke="#666" stroke-width="4.60" stroke-linecap="round"/><path d="M1916.6,459.0 C1926.9,456.6 1941.7,446.3 1959.4,437.5 C1966.8,434.5 1971.2,430.1 1974.2,422.7" fill="none" stroke="#666" stroke-width="4.60" stroke-linecap="round"/><path d="M1944.1,489.1 C1947.6,484.7 1951.1,477.3 1955.0,471.4 C1962.4,469.0 1972.7,472.9 1978.6,480.3 C1984.5,487.6 1986.6,495.0 1990.4,499.7" fill="none" stroke="#666" stroke-width="4.60" stroke-linecap="round"/><path d="M1944.1,489.1 C1950.6,486.2 1960.9,482.0 1969.7,483.8 C1975.9,487.6 1978.9,496.5 1984.8,506.2" fill="none" stroke="#666" stroke-width="4.60" stroke-linecap="round"/><path d="M1975.6,424.2 C1988.9,433.0 2000.7,450.7 2012.5,465.5 C2027.3,483.2 2050.9,489.1 2076.0,481.7" fill="none" stroke="#666" stroke-width="4.60" stroke-linecap="round"/><path d="M1969.7,434.5 C1980.1,441.9 1991.9,459.6 2006.6,475.8 C2024.4,495.0 2050.9,499.4 2077.5,490.6" fill="none" stroke="#666" stroke-width="4.60" stroke-linecap="round"/></g>
<path d="M947.5999999999999,1908 H954.0 V1953.7 H957.3 L950.8,1960.2 L944.3,1953.7 H947.5999999999999 Z" fill="#111"/>
<text x="895.4" y="2019.7" font-family='"Liberation Sans", sans-serif' font-weight="bold" font-size="49.20" fill="#000" textLength="114.8" lengthAdjust="spacingAndGlyphs" >ROM</text>
<rect x="1136.0" y="1309.5" width="381.8" height="717.0" fill="#f7f7f7" stroke="#777" stroke-width="2" />
<rect x="1293.8" y="1754.2" width="139.9" height="196.1" fill="#fff"/>
<path d="M1249.1,1985.0 C1248.3,1981.7 1246.6,1974.2 1244.1,1965.1 C1241.6,1956.0 1238.3,1942.0 1234.2,1930.4 C1230.1,1918.8 1225.1,1907.2 1219.3,1895.7 C1213.5,1884.1 1205.2,1872.5 1199.5,1860.9 C1193.7,1849.3 1188.3,1836.9 1184.6,1826.2 C1180.8,1815.4 1177.5,1804.6 1177.1,1796.4 C1176.7,1788.1 1179.2,1783.1 1182.1,1776.5 C1185.0,1769.9 1188.7,1763.3 1194.5,1756.7 C1200.3,1750.0 1208.6,1742.2 1216.8,1736.8 C1225.1,1731.4 1235.0,1727.3 1244.1,1724.4 C1253.2,1721.5 1265.2,1722.3 1271.4,1719.4 C1277.6,1716.5 1279.3,1714.1 1281.4,1707.0 C1283.4,1700.0 1283.6,1685.5 1283.8,1677.2 C1284.1,1669.0 1284.9,1662.4 1282.8,1657.4 C1280.8,1652.4 1273.7,1651.6 1271.4,1647.5 C1269.1,1643.3 1266.9,1637.9 1268.9,1632.6 C1271.0,1627.2 1276.4,1621.8 1283.8,1615.2 C1291.3,1608.6 1303.7,1600.7 1313.6,1592.9 C1323.6,1585.0 1335.1,1575.9 1343.4,1568.0 C1351.7,1560.2 1359.0,1552.3 1363.3,1545.7 C1367.6,1539.1 1369.2,1532.9 1369.2,1528.3 C1369.2,1523.8 1366.3,1520.1 1363.3,1518.4 C1360.2,1516.8 1355.8,1517.2 1350.9,1518.4 C1345.9,1519.6 1338.0,1523.4 1333.5,1525.9 C1328.9,1528.3 1327.7,1533.7 1323.6,1533.3 C1319.4,1532.9 1313.2,1526.7 1308.7,1523.4 C1304.1,1520.1 1299.1,1514.7 1296.2,1513.4 C1293.4,1512.2 1293.8,1516.8 1291.3,1515.9 C1288.8,1515.1 1282.8,1511.0 1281.4,1508.5 C1280.0,1506.0 1285.3,1502.7 1282.8,1501.0 C1280.4,1499.4 1269.6,1501.0 1266.5,1498.6 C1263.3,1496.1 1265.4,1490.3 1264.0,1486.1 C1262.6,1482.0 1260.9,1477.0 1258.0,1473.7 C1255.1,1470.4 1250.6,1467.1 1246.6,1466.3 C1242.6,1465.5 1237.5,1470.0 1234.2,1468.8 C1230.9,1467.5 1227.6,1462.1 1226.8,1458.8 C1225.9,1455.5 1230.1,1451.8 1229.2,1448.9 C1228.4,1446.0 1222.8,1443.9 1221.8,1441.5 C1220.8,1439.0 1223.9,1435.9 1223.3,1434.0 C1222.7,1432.1 1218.2,1432.1 1218.3,1430.1 C1218.5,1428.0 1220.8,1424.7 1224.3,1421.6 C1227.7,1418.6 1234.6,1416.6 1239.2,1411.7 C1243.7,1406.7 1245.8,1396.8 1251.6,1391.8 C1257.4,1386.9 1264.4,1384.8 1273.9,1381.9 C1283.4,1379.0 1297.9,1376.9 1308.7,1374.5 C1319.4,1372.0 1331.8,1369.9 1338.4,1367.0 C1345.1,1364.1 1346.3,1360.4 1348.4,1357.1 C1350.4,1353.8 1348.4,1350.5 1350.9,1347.2 C1353.3,1343.8 1355.8,1339.3 1363.3,1337.2 C1370.7,1335.2 1384.8,1333.9 1395.5,1334.7 C1406.3,1335.6 1419.3,1338.5 1427.8,1342.2 C1436.3,1345.9 1443.8,1351.7 1446.7,1357.1 C1449.5,1362.5 1448.7,1369.1 1445.2,1374.5 C1441.6,1379.8 1430.3,1384.0 1425.3,1389.3 C1420.3,1394.7 1417.4,1400.1 1415.4,1406.7 C1413.3,1413.3 1412.9,1421.2 1412.9,1429.1 C1412.9,1436.9 1413.7,1447.3 1415.4,1453.9 C1417.0,1460.5 1419.5,1465.9 1422.8,1468.8 C1426.1,1471.7 1432.9,1470.0 1435.2,1471.2 C1437.6,1472.5 1438.0,1474.8 1436.7,1476.2 C1435.5,1477.6 1425.1,1475.1 1427.8,1479.7 C1430.4,1484.2 1443.9,1494.6 1452.6,1503.5 C1461.3,1512.4 1472.0,1524.2 1479.9,1533.3 C1487.8,1542.4 1494.8,1549.4 1499.8,1558.1 C1504.7,1566.8 1508.0,1576.7 1509.7,1585.4 C1511.3,1594.1 1511.3,1599.9 1509.7,1610.2 C1508.0,1620.6 1503.5,1634.6 1499.8,1647.5 C1496.0,1660.3 1491.5,1674.8 1487.4,1687.2 C1483.2,1699.6 1478.3,1711.2 1474.9,1721.9 C1471.6,1732.7 1469.2,1743.4 1467.5,1751.7 C1465.8,1760.0 1464.2,1764.1 1465.0,1771.6 C1465.8,1779.0 1468.3,1787.3 1472.5,1796.4 C1476.6,1805.5 1484.9,1817.9 1489.8,1826.2 C1494.8,1834.4 1499.5,1838.6 1502.2,1846.0 C1505.0,1853.5 1506.6,1862.6 1506.2,1870.8 C1505.8,1879.1 1503.7,1887.4 1499.8,1895.7 C1495.8,1903.9 1490.3,1911.4 1482.4,1920.5 C1474.5,1929.6 1460.5,1942.0 1452.6,1950.3 C1444.7,1958.5 1439.0,1964.3 1435.2,1970.1 C1431.5,1975.9 1431.1,1982.5 1430.3,1985.0" fill="none" stroke="#5e5e5e" stroke-width="1.3" stroke-linejoin="round"/>
<line x1="1249.1" y1="1985.0" x2="1430.3" y2="1985.0" stroke="#444" stroke-width="1.8"/>
<path d="M1361.1,1754.4 C1363.4,1754.8 1370.0,1755.3 1374.9,1756.7 C1379.7,1758.1 1385.3,1760.6 1390.2,1762.8 C1395.0,1765.1 1400.6,1767.2 1403.9,1770.5 C1407.2,1773.8 1407.2,1778.6 1410.0,1782.7 C1412.8,1786.8 1418.2,1790.4 1420.7,1794.9 C1423.3,1799.5 1423.7,1804.4 1425.3,1810.2 C1427.0,1816.1 1430.2,1823.5 1430.7,1830.1 C1431.2,1836.7 1428.9,1842.8 1428.4,1850.0 C1427.9,1857.1 1429.4,1867.0 1427.6,1872.9 C1425.8,1878.8 1419.8,1881.0 1417.7,1885.1 C1415.5,1889.2 1417.2,1893.5 1414.6,1897.4 C1412.1,1901.2 1406.5,1903.5 1402.4,1908.1 C1398.3,1912.6 1394.0,1919.5 1390.2,1924.9 C1386.3,1930.2 1382.5,1936.8 1379.5,1940.2 C1376.4,1943.5 1375.4,1944.4 1371.8,1945.0 C1368.2,1945.7 1361.4,1945.3 1358.1,1944.3 C1354.7,1943.2 1354.7,1942.4 1351.9,1938.6 C1349.1,1934.9 1344.8,1927.2 1341.2,1921.8 C1337.7,1916.5 1334.9,1911.9 1330.5,1906.5 C1326.2,1901.2 1319.6,1895.1 1315.3,1889.7 C1310.9,1884.4 1307.1,1879.5 1304.6,1874.4 C1302.0,1869.3 1301.4,1866.0 1300.0,1859.1 C1298.6,1852.3 1295.6,1840.5 1296.2,1833.2 C1296.7,1825.8 1301.1,1820.9 1303.0,1814.8 C1304.9,1808.7 1305.1,1801.6 1307.6,1796.5 C1310.2,1791.4 1315.3,1788.3 1318.3,1784.2 C1321.4,1780.2 1322.6,1775.6 1326.0,1772.0 C1329.3,1768.5 1334.4,1765.4 1338.2,1762.8 C1342.0,1760.3 1345.1,1758.1 1348.9,1756.7 C1352.7,1755.3 1359.1,1754.8 1361.1,1754.4Z" fill="#1E6FBE"/>
<path d="M1362.6,1772.0 C1365.7,1772.7 1374.9,1773.0 1381.0,1775.8 C1387.1,1778.6 1394.2,1783.1 1399.3,1788.8 C1404.4,1794.6 1408.8,1802.6 1411.6,1810.2 C1414.4,1817.9 1415.9,1827.0 1416.1,1834.7 C1416.4,1842.3 1414.9,1849.0 1413.1,1856.1 C1411.3,1863.2 1408.8,1870.9 1405.4,1877.5 C1402.1,1884.1 1397.8,1890.5 1393.2,1895.8 C1388.6,1901.2 1382.5,1905.6 1377.9,1909.6 C1373.3,1913.6 1369.8,1919.7 1365.7,1920.0 C1361.6,1920.2 1358.1,1914.1 1353.5,1911.1 C1348.9,1908.1 1342.8,1905.8 1338.2,1901.9 C1333.6,1898.1 1329.5,1893.8 1326.0,1888.2 C1322.4,1882.6 1319.0,1876.0 1316.8,1868.3 C1314.6,1860.7 1313.2,1850.5 1313.0,1842.3 C1312.7,1834.2 1313.6,1826.5 1315.3,1819.4 C1316.9,1812.3 1319.6,1805.6 1322.9,1799.5 C1326.2,1793.4 1330.8,1786.9 1335.1,1782.7 C1339.5,1778.5 1344.3,1776.1 1348.9,1774.3 C1353.5,1772.5 1360.4,1772.4 1362.6,1772.0Z" fill="#fff"/>
<path d="M1387.1,1783.0 C1389.1,1784.3 1395.5,1786.4 1399.3,1790.7 C1403.1,1794.9 1407.4,1802.1 1410.0,1808.7 C1412.7,1815.3 1414.8,1822.7 1415.2,1830.1 C1415.7,1837.5 1414.9,1850.5 1412.8,1853.3 C1410.6,1856.1 1405.6,1850.0 1402.4,1846.9 C1399.1,1843.8 1395.4,1839.3 1393.2,1834.7 C1391.0,1830.1 1390.4,1824.5 1389.4,1819.4 C1388.4,1814.3 1387.6,1808.7 1387.1,1804.1 C1386.6,1799.5 1386.2,1795.4 1386.2,1791.9 C1386.2,1788.4 1386.9,1784.5 1387.1,1783.0Z" fill="#F6C3EE"/>
<path d="M1351.9,1774.0 C1349.1,1775.6 1340.0,1779.0 1335.1,1783.5 C1330.3,1788.0 1326.1,1794.6 1322.9,1801.1 C1319.7,1807.6 1317.5,1815.6 1316.0,1822.5 C1314.5,1829.3 1313.8,1834.7 1314.0,1842.3 C1314.3,1850.0 1315.3,1860.7 1317.6,1868.3 C1319.8,1876.0 1323.8,1882.6 1327.5,1888.2 C1331.2,1893.8 1334.9,1898.1 1339.7,1901.9 C1344.6,1905.8 1352.5,1908.3 1356.5,1911.1 C1360.6,1913.9 1362.6,1917.5 1363.9,1918.8" fill="none" stroke="#F5820F" stroke-width="3.8" stroke-linecap="butt"/>
<path d="M1317.6,1838.0 C1317.8,1840.5 1318.1,1848.2 1318.8,1853.0 C1319.5,1857.9 1319.7,1861.7 1321.8,1867.1 C1323.9,1872.5 1327.7,1880.3 1331.3,1885.4 C1334.9,1890.6 1339.1,1894.5 1343.2,1897.8 C1347.3,1901.1 1353.8,1904.1 1355.9,1905.3" fill="none" stroke="#E8202A" stroke-width="3.4"/>
<path d="M1353.5,1776.9 C1355.5,1776.8 1361.6,1776.2 1365.7,1776.3 C1369.8,1776.4 1374.9,1776.7 1377.9,1777.5 C1380.9,1778.3 1383.2,1778.5 1383.7,1781.2 C1384.3,1783.8 1382.2,1788.8 1381.3,1793.4 C1380.4,1798.0 1378.5,1804.1 1378.2,1808.7 C1378.0,1813.3 1378.5,1817.1 1379.8,1820.9 C1381.0,1824.8 1382.8,1828.1 1385.6,1831.6 C1388.3,1835.2 1392.0,1838.5 1396.3,1842.3 C1400.5,1846.1 1408.8,1852.5 1411.2,1854.6" fill="none" stroke="#555" stroke-width="2.6"/>
<path d="M1353.5,1776.9 C1355.5,1776.8 1361.6,1776.2 1365.7,1776.3 C1369.8,1776.4 1374.9,1776.7 1377.9,1777.5 C1380.9,1778.3 1383.2,1778.5 1383.7,1781.2 C1384.3,1783.8 1382.2,1788.8 1381.3,1793.4 C1380.4,1798.0 1378.5,1804.1 1378.2,1808.7 C1378.0,1813.3 1378.5,1817.1 1379.8,1820.9 C1381.0,1824.8 1382.8,1828.1 1385.6,1831.6 C1388.3,1835.2 1392.0,1838.5 1396.3,1842.3 C1400.5,1846.1 1408.8,1852.5 1411.2,1854.6" fill="none" stroke="#eee" stroke-width="1.1"/>
<path d="M1411.2,1855.3 C1410.8,1857.7 1410.5,1864.9 1408.5,1869.8 C1406.5,1874.8 1402.9,1880.5 1399.3,1885.1 C1395.8,1889.7 1391.6,1893.7 1387.1,1897.4 C1382.6,1901.0 1375.0,1905.3 1372.6,1906.8" fill="none" stroke="#555" stroke-width="2.6"/>
<path d="M1411.2,1855.3 C1410.8,1857.7 1410.5,1864.9 1408.5,1869.8 C1406.5,1874.8 1402.9,1880.5 1399.3,1885.1 C1395.8,1889.7 1391.6,1893.7 1387.1,1897.4 C1382.6,1901.0 1375.0,1905.3 1372.6,1906.8" fill="none" stroke="#eee" stroke-width="1.1"/>
<path d="M1385.6,1788.8 C1385.6,1791.4 1385.3,1799.5 1385.6,1804.1 C1385.8,1808.7 1386.1,1812.3 1387.1,1816.3 C1388.1,1820.4 1389.9,1825.0 1391.7,1828.6 C1393.5,1832.1 1396.8,1836.2 1397.8,1837.7" fill="none" stroke="#888" stroke-width="0.9"/>
<path d="M1388.0,1791.1 C1387.8,1792.7 1386.7,1799.1 1386.5,1800.8" fill="none" stroke="#7B1FA2" stroke-width="1.9"/>
<path d="M1398.1,1832.9 C1397.1,1833.2 1393.6,1833.6 1392.0,1834.7 C1390.4,1835.8 1389.7,1837.8 1388.6,1839.6 C1387.5,1841.3 1385.8,1844.2 1385.3,1845.1" fill="none" stroke="#8B4A12" stroke-width="2.5" stroke-linecap="round"/>
<g transform="translate(1323.7,1794.9) scale(0.338) translate(-1893,-338.3)"><path d="M2002.2,342.1 C2003.7,338.6 2006.6,338.3 2012.5,338.3 L2034.7,339.2 C2039.1,342.1 2041.5,347.4 2043.5,352.7 C2045.6,356.3 2048.6,358.6 2048.0,362.2 C2045.6,366.3 2041.5,365.7 2037.6,363.4 C2031.7,361.6 2024.9,362.2 2022.0,366.9 C2019.6,379.9 2021.4,403.5 2019.0,421.2 C2017.0,433.6 2010.2,442.5 2002.2,447.8 C1994.8,441.9 1986.0,434.5 1977.1,433.0 C1983.0,444.8 1988.9,458.1 1994.8,468.5 C2000.7,474.4 2006.6,478.8 2010.2,483.2 C2006.6,489.7 2002.2,495.6 1990.4,499.7 C1986.6,500.9 1983.6,503.3 1984.8,506.2 C1987.2,509.8 1985.4,514.2 1988.9,520.1 C1993.4,526.0 1997.2,533.4 1997.2,545.2 C1997.2,562.9 1988.9,582.1 1974.2,592.4 C1960.9,601.3 1944.6,604.2 1931.4,601.3 C1924.0,596.9 1913.7,583.6 1907.7,567.3 C1904.8,557.0 1905.7,537.8 1909.2,531.0 C1910.4,524.5 1909.2,515.7 1904.8,506.8 C1898.9,496.5 1893.0,483.2 1893.0,465.5 C1893.9,441.9 1901.8,418.3 1912.2,397.6 C1924.0,376.9 1938.7,360.7 1953.5,350.4 C1962.4,344.5 1971.2,343.9 1980.7,345.9 C1988.9,348.9 1996.3,362.2 2000.1,371.6 C2002.5,362.2 2000.7,350.4 2002.2,342.1 Z" fill="none" stroke="#666" stroke-width="4.14" stroke-linecap="round"/><path d="M2000.1,371.6 C1998.4,382.8 1999.3,397.6 2005.2,410.9" fill="none" stroke="#666" stroke-width="4.14" stroke-linecap="round"/><path d="M1961.8,384.3 C1963.8,397.6 1969.7,410.9 1974.2,422.7" fill="none" stroke="#666" stroke-width="4.14" stroke-linecap="round"/><path d="M1916.6,459.0 C1926.9,456.6 1941.7,446.3 1959.4,437.5 C1966.8,434.5 1971.2,430.1 1974.2,422.7" fill="none" stroke="#666" stroke-width="4.14" stroke-linecap="round"/><path d="M1944.1,489.1 C1947.6,484.7 1951.1,477.3 1955.0,471.4 C1962.4,469.0 1972.7,472.9 1978.6,480.3 C1984.5,487.6 1986.6,495.0 1990.4,499.7" fill="none" stroke="#666" stroke-width="4.14" stroke-linecap="round"/><path d="M1944.1,489.1 C1950.6,486.2 1960.9,482.0 1969.7,483.8 C1975.9,487.6 1978.9,496.5 1984.8,506.2" fill="none" stroke="#666" stroke-width="4.14" stroke-linecap="round"/><path d="M1975.6,424.2 C1988.9,433.0 2000.7,450.7 2012.5,465.5 C2027.3,483.2 2050.9,489.1 2076.0,481.7" fill="none" stroke="#666" stroke-width="4.14" stroke-linecap="round"/><path d="M1969.7,434.5 C1980.1,441.9 1991.9,459.6 2006.6,475.8 C2024.4,495.0 2050.9,499.4 2077.5,490.6" fill="none" stroke="#666" stroke-width="4.14" stroke-linecap="round"/></g>
<path d="M1362.5,1895.7 H1368.9 V1949.7 H1372.2 L1365.7,1956.2 L1359.2,1949.7 H1362.5 Z" fill="#111"/>
<text x="1310.3" y="2020.7" font-family='"Liberation Sans", sans-serif' font-weight="bold" font-size="48.97" fill="#000" textLength="114.3" lengthAdjust="spacingAndGlyphs" >ROM</text>
<rect x="1544.0" y="1309.5" width="382.0" height="717.0" fill="#f7f7f7" stroke="#777" stroke-width="2" />
<rect x="1691.4" y="1734.3" width="153.8" height="216.0" fill="#fff"/>
<path d="M1659.1,1977.6 C1657.0,1971.3 1652.5,1954.0 1646.7,1940.3 C1640.9,1926.7 1632.2,1908.9 1624.3,1895.7 C1616.5,1882.4 1607.0,1872.5 1599.5,1860.9 C1592.1,1849.3 1584.2,1836.9 1579.7,1826.2 C1575.1,1815.4 1571.8,1806.3 1572.2,1796.4 C1572.6,1786.4 1576.0,1777.3 1582.2,1766.6 C1588.4,1755.8 1598.3,1742.2 1609.5,1731.8 C1620.6,1721.5 1636.8,1711.2 1649.2,1704.5 C1661.6,1697.9 1675.6,1698.3 1683.9,1692.1 C1692.2,1685.9 1697.3,1673.8 1698.8,1667.3 C1700.3,1660.9 1696.0,1658.0 1692.8,1653.4 C1689.7,1648.9 1682.5,1644.7 1679.9,1640.0 C1677.4,1635.3 1675.4,1630.5 1677.5,1625.1 C1679.5,1619.7 1684.9,1614.4 1692.4,1607.8 C1699.8,1601.1 1712.2,1593.3 1722.1,1585.4 C1732.1,1577.6 1743.6,1568.5 1751.9,1560.6 C1760.2,1552.7 1767.5,1544.9 1771.8,1538.3 C1776.1,1531.6 1777.7,1525.4 1777.7,1520.9 C1777.7,1516.3 1774.8,1512.6 1771.8,1511.0 C1768.7,1509.3 1764.3,1509.7 1759.4,1511.0 C1754.4,1512.2 1746.5,1515.9 1742.0,1518.4 C1737.4,1520.9 1736.2,1526.3 1732.1,1525.9 C1727.9,1525.4 1721.7,1519.2 1717.2,1515.9 C1712.6,1512.6 1707.7,1507.2 1704.8,1506.0 C1701.9,1504.8 1702.3,1509.3 1699.8,1508.5 C1697.3,1507.7 1691.3,1503.5 1689.9,1501.0 C1688.5,1498.6 1693.8,1495.2 1691.4,1493.6 C1688.9,1491.9 1678.1,1493.6 1675.0,1491.1 C1671.8,1488.6 1673.9,1482.8 1672.5,1478.7 C1671.1,1474.6 1669.4,1469.6 1666.5,1466.3 C1663.6,1463.0 1659.1,1459.7 1655.1,1458.8 C1651.2,1458.0 1646.0,1462.6 1642.7,1461.3 C1639.4,1460.1 1636.1,1454.7 1635.3,1451.4 C1634.4,1448.1 1638.6,1444.4 1637.7,1441.5 C1636.9,1438.6 1631.3,1436.5 1630.3,1434.0 C1629.3,1431.5 1632.4,1428.5 1631.8,1426.6 C1631.2,1424.7 1626.7,1424.7 1626.8,1422.6 C1627.0,1420.5 1629.3,1417.2 1632.8,1414.2 C1636.3,1411.1 1643.1,1409.2 1647.7,1404.2 C1652.2,1399.3 1654.3,1389.3 1660.1,1384.4 C1665.9,1379.4 1672.9,1377.4 1682.4,1374.5 C1691.9,1371.6 1706.4,1369.5 1717.2,1367.0 C1727.9,1364.5 1740.3,1362.5 1747.0,1359.6 C1753.6,1356.7 1754.8,1352.9 1756.9,1349.6 C1758.9,1346.3 1756.9,1343.0 1759.4,1339.7 C1761.8,1336.4 1764.3,1331.9 1771.8,1329.8 C1779.2,1327.7 1793.3,1326.5 1804.0,1327.3 C1814.8,1328.1 1827.8,1331.0 1836.3,1334.7 C1844.8,1338.5 1852.3,1344.3 1855.2,1349.6 C1858.1,1355.0 1857.2,1361.6 1853.7,1367.0 C1850.1,1372.4 1838.8,1376.5 1833.8,1381.9 C1828.9,1387.3 1826.0,1392.7 1823.9,1399.3 C1821.8,1405.9 1821.4,1413.8 1821.4,1421.6 C1821.4,1429.5 1822.2,1439.8 1823.9,1446.4 C1825.5,1453.0 1828.0,1458.4 1831.3,1461.3 C1834.6,1464.2 1841.4,1462.6 1843.7,1463.8 C1846.1,1465.0 1846.5,1467.4 1845.2,1468.8 C1844.0,1470.2 1833.7,1467.7 1836.3,1472.2 C1838.9,1476.8 1852.4,1487.1 1861.1,1496.1 C1869.8,1505.0 1880.6,1516.8 1888.4,1525.9 C1896.3,1535.0 1903.3,1542.0 1908.3,1550.7 C1913.2,1559.4 1916.5,1569.3 1918.2,1578.0 C1919.9,1586.7 1919.9,1592.4 1918.2,1602.8 C1916.5,1613.1 1912.0,1627.2 1908.3,1640.0 C1904.6,1652.8 1900.0,1667.3 1895.9,1679.7 C1891.7,1692.1 1886.8,1703.7 1883.5,1714.5 C1880.1,1725.2 1877.7,1736.0 1876.0,1744.3 C1874.4,1752.5 1872.7,1756.7 1873.5,1764.1 C1874.4,1771.6 1876.8,1779.8 1881.0,1788.9 C1885.1,1798.0 1893.4,1810.4 1898.3,1818.7 C1903.3,1827.0 1908.0,1831.1 1910.8,1838.6 C1913.5,1846.0 1915.1,1855.1 1914.7,1863.4 C1914.3,1871.7 1912.2,1879.9 1908.3,1888.2 C1904.3,1896.5 1898.8,1903.9 1890.9,1913.0 C1883.0,1922.1 1869.0,1934.5 1861.1,1942.8 C1853.3,1951.1 1846.4,1957.1 1843.7,1962.7 C1841.1,1968.2 1845.0,1973.8 1845.2,1976.1" fill="none" stroke="#5e5e5e" stroke-width="1.3" stroke-linejoin="round"/>
<line x1="1659.1" y1="1977.6" x2="1845.2" y2="1976.1" stroke="#444" stroke-width="1.8"/>
<path d="M1767.3,1735.7 C1769.8,1736.1 1777.1,1736.7 1782.4,1738.2 C1787.7,1739.8 1793.8,1742.4 1799.2,1745.0 C1804.5,1747.5 1810.6,1749.7 1814.3,1753.3 C1817.9,1757.0 1817.9,1762.3 1821.0,1766.8 C1824.0,1771.2 1829.9,1775.2 1832.7,1780.2 C1835.5,1785.2 1835.9,1790.5 1837.8,1797.0 C1839.6,1803.4 1843.1,1811.5 1843.6,1818.8 C1844.2,1826.1 1841.7,1832.8 1841.1,1840.6 C1840.5,1848.4 1842.2,1859.4 1840.3,1865.8 C1838.3,1872.2 1831.7,1874.7 1829.4,1879.2 C1827.0,1883.7 1828.8,1888.4 1826.0,1892.6 C1823.2,1896.8 1817.1,1899.3 1812.6,1904.4 C1808.1,1909.4 1803.3,1917.0 1799.2,1922.8 C1795.0,1928.7 1790.8,1935.9 1787.4,1939.6 C1784.0,1943.3 1782.9,1944.2 1779.0,1945.0 C1775.1,1945.8 1767.5,1945.3 1763.9,1944.2 C1760.3,1943.0 1760.3,1942.1 1757.2,1937.9 C1754.1,1933.8 1749.4,1925.4 1745.4,1919.5 C1741.5,1913.6 1738.5,1908.6 1733.7,1902.7 C1728.9,1896.8 1721.7,1890.1 1716.9,1884.2 C1712.2,1878.4 1708.0,1873.1 1705.2,1867.5 C1702.4,1861.9 1701.7,1858.2 1700.1,1850.7 C1698.6,1843.1 1695.4,1830.3 1695.9,1822.2 C1696.5,1814.0 1701.4,1808.7 1703.5,1802.0 C1705.6,1795.3 1705.7,1787.5 1708.5,1781.9 C1711.3,1776.3 1716.9,1772.9 1720.3,1768.4 C1723.6,1764.0 1725.0,1758.9 1728.7,1755.0 C1732.3,1751.1 1737.9,1747.8 1742.1,1745.0 C1746.3,1742.2 1749.6,1739.8 1753.8,1738.2 C1758.0,1736.7 1765.0,1736.1 1767.3,1735.7Z" fill="#1E6FBE"/>
<path d="M1768.9,1755.0 C1772.3,1755.7 1782.4,1756.1 1789.1,1759.2 C1795.8,1762.3 1803.6,1767.2 1809.2,1773.5 C1814.8,1779.8 1819.6,1788.6 1822.6,1797.0 C1825.7,1805.4 1827.4,1815.4 1827.7,1823.8 C1828.0,1832.2 1826.3,1839.5 1824.3,1847.3 C1822.4,1855.2 1819.6,1863.5 1815.9,1870.8 C1812.3,1878.1 1807.5,1885.1 1802.5,1891.0 C1797.5,1896.8 1790.8,1901.6 1785.7,1906.1 C1780.7,1910.5 1776.8,1917.2 1772.3,1917.5 C1767.8,1917.8 1763.9,1911.0 1758.9,1907.7 C1753.8,1904.4 1747.1,1901.9 1742.1,1897.7 C1737.1,1893.5 1732.6,1888.7 1728.7,1882.6 C1724.8,1876.4 1721.0,1869.1 1718.6,1860.8 C1716.2,1852.4 1714.7,1841.2 1714.4,1832.2 C1714.1,1823.3 1715.1,1814.9 1716.9,1807.0 C1718.7,1799.2 1721.7,1791.9 1725.3,1785.2 C1728.9,1778.5 1734.0,1771.4 1738.7,1766.8 C1743.5,1762.2 1748.8,1759.5 1753.8,1757.5 C1758.9,1755.6 1766.4,1755.4 1768.9,1755.0Z" fill="#fff"/>
<path d="M1795.8,1767.1 C1798.0,1768.5 1805.0,1770.8 1809.2,1775.5 C1813.4,1780.2 1818.1,1788.1 1821.0,1795.3 C1823.9,1802.5 1826.2,1810.6 1826.7,1818.8 C1827.2,1827.0 1826.3,1841.2 1824.0,1844.3 C1821.6,1847.4 1816.2,1840.7 1812.6,1837.3 C1809.0,1833.8 1804.9,1828.9 1802.5,1823.8 C1800.1,1818.8 1799.4,1812.6 1798.3,1807.0 C1797.2,1801.5 1796.4,1795.3 1795.8,1790.3 C1795.2,1785.2 1794.8,1780.7 1794.8,1776.8 C1794.8,1773.0 1795.6,1768.7 1795.8,1767.1Z" fill="#F6C3EE"/>
<path d="M1757.2,1757.2 C1754.1,1758.9 1744.1,1762.7 1738.7,1767.6 C1733.4,1772.6 1728.8,1779.8 1725.3,1786.9 C1721.8,1794.0 1719.4,1802.9 1717.8,1810.4 C1716.1,1818.0 1715.3,1823.8 1715.6,1832.2 C1715.9,1840.6 1717.0,1852.4 1719.4,1860.8 C1721.9,1869.1 1726.3,1876.4 1730.3,1882.6 C1734.4,1888.7 1738.5,1893.5 1743.8,1897.7 C1749.1,1901.9 1757.8,1904.7 1762.2,1907.7 C1766.7,1910.8 1768.9,1914.7 1770.3,1916.1" fill="none" stroke="#F5820F" stroke-width="4.2" stroke-linecap="butt"/>
<path d="M1719.4,1827.5 C1719.7,1830.3 1720.0,1838.7 1720.8,1844.0 C1721.6,1849.3 1721.8,1853.5 1724.1,1859.4 C1726.4,1865.3 1730.6,1873.9 1734.5,1879.5 C1738.5,1885.2 1743.1,1889.5 1747.6,1893.1 C1752.1,1896.8 1759.2,1900.0 1761.6,1901.4" fill="none" stroke="#E8202A" stroke-width="3.7"/>
<path d="M1758.9,1760.4 C1761.1,1760.3 1767.8,1759.6 1772.3,1759.7 C1776.8,1759.8 1782.4,1760.2 1785.7,1761.1 C1789.0,1762.0 1791.5,1762.2 1792.1,1765.1 C1792.7,1768.0 1790.4,1773.5 1789.4,1778.5 C1788.4,1783.6 1786.3,1790.3 1786.1,1795.3 C1785.8,1800.3 1786.4,1804.5 1787.7,1808.7 C1789.1,1812.9 1791.1,1816.6 1794.1,1820.5 C1797.1,1824.4 1801.2,1828.0 1805.9,1832.2 C1810.6,1836.4 1819.6,1843.4 1822.3,1845.6" fill="none" stroke="#555" stroke-width="2.9"/>
<path d="M1758.9,1760.4 C1761.1,1760.3 1767.8,1759.6 1772.3,1759.7 C1776.8,1759.8 1782.4,1760.2 1785.7,1761.1 C1789.0,1762.0 1791.5,1762.2 1792.1,1765.1 C1792.7,1768.0 1790.4,1773.5 1789.4,1778.5 C1788.4,1783.6 1786.3,1790.3 1786.1,1795.3 C1785.8,1800.3 1786.4,1804.5 1787.7,1808.7 C1789.1,1812.9 1791.1,1816.6 1794.1,1820.5 C1797.1,1824.4 1801.2,1828.0 1805.9,1832.2 C1810.6,1836.4 1819.6,1843.4 1822.3,1845.6" fill="none" stroke="#eee" stroke-width="1.2"/>
<path d="M1822.3,1846.5 C1821.8,1849.1 1821.5,1857.0 1819.3,1862.4 C1817.1,1867.9 1813.1,1874.2 1809.2,1879.2 C1805.3,1884.2 1800.7,1888.7 1795.8,1892.6 C1790.9,1896.6 1782.5,1901.3 1779.9,1903.0" fill="none" stroke="#555" stroke-width="2.9"/>
<path d="M1822.3,1846.5 C1821.8,1849.1 1821.5,1857.0 1819.3,1862.4 C1817.1,1867.9 1813.1,1874.2 1809.2,1879.2 C1805.3,1884.2 1800.7,1888.7 1795.8,1892.6 C1790.9,1896.6 1782.5,1901.3 1779.9,1903.0" fill="none" stroke="#eee" stroke-width="1.2"/>
<path d="M1794.1,1773.5 C1794.1,1776.3 1793.8,1785.2 1794.1,1790.3 C1794.4,1795.3 1794.7,1799.2 1795.8,1803.7 C1796.9,1808.2 1798.9,1813.2 1800.8,1817.1 C1802.8,1821.0 1806.4,1825.5 1807.5,1827.2" fill="none" stroke="#888" stroke-width="1.0"/>
<path d="M1796.8,1776.0 C1796.5,1777.8 1795.4,1784.8 1795.1,1786.6" fill="none" stroke="#7B1FA2" stroke-width="2.1"/>
<path d="M1807.9,1821.8 C1806.8,1822.2 1802.9,1822.6 1801.2,1823.8 C1799.4,1825.1 1798.7,1827.3 1797.5,1829.2 C1796.2,1831.1 1794.4,1834.2 1793.8,1835.2" fill="none" stroke="#8B4A12" stroke-width="2.7" stroke-linecap="round"/>
<g transform="translate(1726.1,1780.2) scale(0.371) translate(-1893,-338.3)"><path d="M2002.2,342.1 C2003.7,338.6 2006.6,338.3 2012.5,338.3 L2034.7,339.2 C2039.1,342.1 2041.5,347.4 2043.5,352.7 C2045.6,356.3 2048.6,358.6 2048.0,362.2 C2045.6,366.3 2041.5,365.7 2037.6,363.4 C2031.7,361.6 2024.9,362.2 2022.0,366.9 C2019.6,379.9 2021.4,403.5 2019.0,421.2 C2017.0,433.6 2010.2,442.5 2002.2,447.8 C1994.8,441.9 1986.0,434.5 1977.1,433.0 C1983.0,444.8 1988.9,458.1 1994.8,468.5 C2000.7,474.4 2006.6,478.8 2010.2,483.2 C2006.6,489.7 2002.2,495.6 1990.4,499.7 C1986.6,500.9 1983.6,503.3 1984.8,506.2 C1987.2,509.8 1985.4,514.2 1988.9,520.1 C1993.4,526.0 1997.2,533.4 1997.2,545.2 C1997.2,562.9 1988.9,582.1 1974.2,592.4 C1960.9,601.3 1944.6,604.2 1931.4,601.3 C1924.0,596.9 1913.7,583.6 1907.7,567.3 C1904.8,557.0 1905.7,537.8 1909.2,531.0 C1910.4,524.5 1909.2,515.7 1904.8,506.8 C1898.9,496.5 1893.0,483.2 1893.0,465.5 C1893.9,441.9 1901.8,418.3 1912.2,397.6 C1924.0,376.9 1938.7,360.7 1953.5,350.4 C1962.4,344.5 1971.2,343.9 1980.7,345.9 C1988.9,348.9 1996.3,362.2 2000.1,371.6 C2002.5,362.2 2000.7,350.4 2002.2,342.1 Z" fill="none" stroke="#666" stroke-width="3.77" stroke-linecap="round"/><path d="M2000.1,371.6 C1998.4,382.8 1999.3,397.6 2005.2,410.9" fill="none" stroke="#666" stroke-width="3.77" stroke-linecap="round"/><path d="M1961.8,384.3 C1963.8,397.6 1969.7,410.9 1974.2,422.7" fill="none" stroke="#666" stroke-width="3.77" stroke-linecap="round"/><path d="M1916.6,459.0 C1926.9,456.6 1941.7,446.3 1959.4,437.5 C1966.8,434.5 1971.2,430.1 1974.2,422.7" fill="none" stroke="#666" stroke-width="3.77" stroke-linecap="round"/><path d="M1944.1,489.1 C1947.6,484.7 1951.1,477.3 1955.0,471.4 C1962.4,469.0 1972.7,472.9 1978.6,480.3 C1984.5,487.6 1986.6,495.0 1990.4,499.7" fill="none" stroke="#666" stroke-width="3.77" stroke-linecap="round"/><path d="M1944.1,489.1 C1950.6,486.2 1960.9,482.0 1969.7,483.8 C1975.9,487.6 1978.9,496.5 1984.8,506.2" fill="none" stroke="#666" stroke-width="3.77" stroke-linecap="round"/><path d="M1975.6,424.2 C1988.9,433.0 2000.7,450.7 2012.5,465.5 C2027.3,483.2 2050.9,489.1 2076.0,481.7" fill="none" stroke="#666" stroke-width="3.77" stroke-linecap="round"/><path d="M1969.7,434.5 C1980.1,441.9 1991.9,459.6 2006.6,475.8 C2024.4,495.0 2050.9,499.4 2077.5,490.6" fill="none" stroke="#666" stroke-width="3.77" stroke-linecap="round"/></g>
<path d="M1769.1,1893.2 H1775.5 V1951.2 H1778.8 L1772.3,1957.7 L1765.8,1951.2 H1769.1 Z" fill="#111"/>
<text x="1716.4" y="2019.7" font-family='"Liberation Sans", sans-serif' font-weight="bold" font-size="48.74" fill="#000" textLength="113.7" lengthAdjust="spacingAndGlyphs" >ROM</text>
<rect x="1955.6" y="1309.5" width="379.2" height="717.0" fill="#f7f7f7" stroke="#777" stroke-width="2" />
<rect x="2086.5" y="1682.2" width="193.5" height="268.1" fill="#fff"/>
<path d="M2069.1,1987.5 C2068.3,1983.8 2067.4,1975.5 2064.1,1965.1 C2060.8,1954.8 2055.9,1938.7 2049.2,1925.4 C2042.6,1912.2 2033.5,1898.1 2024.4,1885.7 C2015.3,1873.3 2003.7,1862.6 1994.6,1851.0 C1985.5,1839.4 1974.9,1827.0 1969.8,1816.2 C1964.7,1805.5 1963.0,1796.4 1963.9,1786.4 C1964.7,1776.5 1967.2,1766.6 1974.8,1756.7 C1982.4,1746.7 1996.3,1736.8 2009.5,1726.9 C2022.8,1717.0 2040.1,1705.4 2054.2,1697.1 C2068.3,1688.8 2085.2,1683.5 2093.9,1677.2 C2102.6,1671.0 2105.1,1664.4 2106.3,1659.9 C2107.6,1655.3 2104.1,1652.3 2101.4,1649.9 C2098.6,1647.5 2092.3,1648.7 2089.9,1645.5 C2087.6,1642.3 2085.4,1636.0 2087.5,1630.6 C2089.5,1625.2 2094.9,1619.8 2102.4,1613.2 C2109.8,1606.6 2122.2,1598.7 2132.1,1590.9 C2142.1,1583.0 2153.6,1573.9 2161.9,1566.1 C2170.2,1558.2 2177.5,1550.3 2181.8,1543.7 C2186.1,1537.1 2187.7,1530.9 2187.7,1526.3 C2187.7,1521.8 2184.8,1518.1 2181.8,1516.4 C2178.7,1514.8 2174.3,1515.2 2169.4,1516.4 C2164.4,1517.7 2156.5,1521.4 2152.0,1523.9 C2147.4,1526.3 2146.2,1531.7 2142.1,1531.3 C2137.9,1530.9 2131.7,1524.7 2127.2,1521.4 C2122.6,1518.1 2117.7,1512.7 2114.8,1511.5 C2111.9,1510.2 2112.3,1514.8 2109.8,1513.9 C2107.3,1513.1 2101.3,1509.0 2099.9,1506.5 C2098.5,1504.0 2103.8,1500.7 2101.4,1499.0 C2098.9,1497.4 2088.1,1499.0 2085.0,1496.6 C2081.8,1494.1 2083.9,1488.3 2082.5,1484.2 C2081.1,1480.0 2079.4,1475.1 2076.5,1471.7 C2073.6,1468.4 2069.1,1465.1 2065.1,1464.3 C2061.2,1463.5 2056.0,1468.0 2052.7,1466.8 C2049.4,1465.5 2046.1,1460.2 2045.3,1456.9 C2044.4,1453.5 2048.6,1449.8 2047.7,1446.9 C2046.9,1444.0 2041.3,1442.0 2040.3,1439.5 C2039.3,1437.0 2042.4,1433.9 2041.8,1432.0 C2041.2,1430.1 2036.7,1430.1 2036.8,1428.1 C2037.0,1426.0 2039.3,1422.7 2042.8,1419.6 C2046.3,1416.6 2053.1,1414.7 2057.7,1409.7 C2062.2,1404.7 2064.3,1394.8 2070.1,1389.8 C2075.9,1384.9 2082.9,1382.8 2092.4,1379.9 C2101.9,1377.0 2116.4,1375.0 2127.2,1372.5 C2137.9,1370.0 2150.3,1367.9 2157.0,1365.0 C2163.6,1362.1 2164.8,1358.4 2166.9,1355.1 C2168.9,1351.8 2166.9,1348.5 2169.4,1345.2 C2171.8,1341.9 2174.3,1337.3 2181.8,1335.2 C2189.2,1333.2 2203.3,1331.9 2214.0,1332.8 C2224.8,1333.6 2237.8,1336.5 2246.3,1340.2 C2254.8,1343.9 2262.3,1349.7 2265.2,1355.1 C2268.1,1360.5 2267.2,1367.1 2263.7,1372.5 C2260.1,1377.8 2248.8,1382.0 2243.8,1387.4 C2238.9,1392.7 2236.0,1398.1 2233.9,1404.7 C2231.8,1411.4 2231.4,1419.2 2231.4,1427.1 C2231.4,1434.9 2232.2,1445.3 2233.9,1451.9 C2235.5,1458.5 2238.0,1463.9 2241.3,1466.8 C2244.6,1469.7 2251.4,1468.0 2253.7,1469.3 C2256.1,1470.5 2256.5,1472.8 2255.2,1474.2 C2254.0,1475.6 2243.7,1473.2 2246.3,1477.7 C2248.9,1482.3 2262.4,1492.6 2271.1,1501.5 C2279.8,1510.5 2290.6,1522.2 2298.4,1531.3 C2306.3,1540.4 2313.3,1547.4 2318.3,1556.1 C2323.2,1564.8 2326.5,1574.7 2328.2,1583.4 C2329.9,1592.1 2329.9,1597.9 2328.2,1608.2 C2326.5,1618.6 2322.0,1632.7 2318.3,1645.5 C2314.6,1658.3 2310.0,1672.8 2305.9,1685.2 C2301.7,1697.6 2296.8,1709.2 2293.5,1719.9 C2290.1,1730.7 2287.7,1741.4 2286.0,1749.7 C2284.4,1758.0 2282.7,1762.1 2283.5,1769.6 C2284.4,1777.0 2286.8,1785.3 2291.0,1794.4 C2295.1,1803.5 2303.4,1815.9 2308.3,1824.2 C2313.3,1832.4 2318.0,1836.6 2320.8,1844.0 C2323.5,1851.5 2325.1,1860.6 2324.7,1868.8 C2324.3,1877.1 2322.2,1885.4 2318.3,1893.7 C2314.3,1901.9 2308.8,1909.4 2300.9,1918.5 C2293.0,1927.6 2279.0,1940.0 2271.1,1948.3 C2263.3,1956.5 2257.2,1962.0 2253.7,1968.1 C2250.3,1974.2 2250.9,1982.2 2250.3,1985.0" fill="none" stroke="#5e5e5e" stroke-width="1.3" stroke-linejoin="round"/>
<line x1="2069.1" y1="1987.5" x2="2250.3" y2="1985.0" stroke="#444" stroke-width="1.8"/>
<path d="M2180.3,1685.6 C2183.4,1686.1 2192.4,1686.8 2199.0,1688.7 C2205.6,1690.6 2213.2,1693.9 2219.8,1697.0 C2226.4,1700.1 2234.0,1702.9 2238.5,1707.4 C2243.0,1711.9 2243.0,1718.5 2246.8,1724.0 C2250.6,1729.6 2257.9,1734.4 2261.4,1740.7 C2264.8,1746.9 2265.4,1753.5 2267.6,1761.5 C2269.9,1769.4 2274.2,1779.5 2274.9,1788.5 C2275.6,1797.5 2272.5,1805.8 2271.8,1815.5 C2271.1,1825.2 2273.1,1838.7 2270.7,1846.7 C2268.3,1854.7 2260.2,1857.8 2257.2,1863.4 C2254.3,1868.9 2256.5,1874.8 2253.0,1880.0 C2249.6,1885.2 2242.0,1888.3 2236.4,1894.6 C2230.9,1900.8 2225.0,1910.1 2219.8,1917.4 C2214.6,1924.7 2209.4,1933.6 2205.2,1938.2 C2201.1,1942.8 2199.7,1943.9 2194.8,1944.9 C2190.0,1945.8 2180.6,1945.3 2176.1,1943.8 C2171.6,1942.4 2171.6,1941.2 2167.8,1936.1 C2164.0,1931.0 2158.1,1920.5 2153.2,1913.3 C2148.4,1906.0 2144.6,1899.7 2138.7,1892.5 C2132.8,1885.2 2123.8,1876.9 2117.9,1869.6 C2112.0,1862.3 2106.8,1855.7 2103.3,1848.8 C2099.9,1841.9 2099.0,1837.4 2097.1,1828.0 C2095.2,1818.6 2091.2,1802.7 2091.9,1792.7 C2092.6,1782.6 2098.6,1776.0 2101.2,1767.7 C2103.8,1759.4 2104.0,1749.7 2107.5,1742.7 C2110.9,1735.8 2117.9,1731.7 2122.0,1726.1 C2126.2,1720.6 2127.9,1714.3 2132.4,1709.5 C2136.9,1704.6 2143.9,1700.5 2149.1,1697.0 C2154.3,1693.5 2158.4,1690.6 2163.6,1688.7 C2168.8,1686.8 2177.5,1686.1 2180.3,1685.6Z" fill="#1E6FBE"/>
<path d="M2182.3,1709.5 C2186.5,1710.3 2199.0,1710.9 2207.3,1714.7 C2215.6,1718.5 2225.3,1724.5 2232.3,1732.3 C2239.2,1740.1 2245.1,1751.1 2248.9,1761.5 C2252.7,1771.9 2254.8,1784.3 2255.1,1794.7 C2255.5,1805.1 2253.4,1814.1 2251.0,1823.8 C2248.5,1833.6 2245.1,1843.9 2240.6,1853.0 C2236.1,1862.0 2230.2,1870.6 2223.9,1877.9 C2217.7,1885.2 2209.4,1891.2 2203.1,1896.6 C2196.9,1902.1 2192.0,1910.4 2186.5,1910.8 C2181.0,1911.1 2176.1,1902.8 2169.9,1898.7 C2163.6,1894.6 2155.3,1891.4 2149.1,1886.2 C2142.8,1881.0 2137.3,1875.1 2132.4,1867.5 C2127.6,1859.9 2122.9,1850.9 2120.0,1840.5 C2117.0,1830.1 2115.1,1816.2 2114.8,1805.1 C2114.4,1794.0 2115.6,1783.6 2117.9,1773.9 C2120.1,1764.2 2123.8,1755.2 2128.3,1746.9 C2132.8,1738.6 2139.0,1729.7 2144.9,1724.0 C2150.8,1718.3 2157.4,1715.0 2163.6,1712.6 C2169.9,1710.2 2179.2,1710.0 2182.3,1709.5Z" fill="#fff"/>
<path d="M2215.6,1724.4 C2218.4,1726.2 2227.1,1729.0 2232.3,1734.8 C2237.4,1740.7 2243.2,1750.4 2246.8,1759.4 C2250.4,1768.3 2253.3,1778.4 2253.9,1788.5 C2254.5,1798.6 2253.5,1816.3 2250.6,1820.1 C2247.6,1823.9 2240.8,1815.6 2236.4,1811.4 C2232.0,1807.1 2226.9,1801.0 2223.9,1794.7 C2221.0,1788.5 2220.1,1780.9 2218.7,1773.9 C2217.3,1767.0 2216.3,1759.4 2215.6,1753.1 C2214.9,1746.9 2214.4,1741.3 2214.4,1736.5 C2214.4,1731.7 2215.4,1726.5 2215.6,1724.4Z" fill="#F6C3EE"/>
<path d="M2167.8,1712.2 C2164.0,1714.3 2151.5,1718.9 2144.9,1725.1 C2138.3,1731.2 2132.6,1740.1 2128.3,1749.0 C2123.9,1757.8 2120.9,1768.7 2118.9,1778.1 C2116.9,1787.5 2115.9,1794.7 2116.2,1805.1 C2116.6,1815.5 2117.9,1830.1 2121.0,1840.5 C2124.0,1850.9 2129.5,1859.9 2134.5,1867.5 C2139.5,1875.1 2144.6,1881.0 2151.1,1886.2 C2157.7,1891.4 2168.5,1894.9 2174.0,1898.7 C2179.5,1902.5 2182.3,1907.4 2184.0,1909.1" fill="none" stroke="#F5820F" stroke-width="5.2" stroke-linecap="butt"/>
<path d="M2121.0,1799.3 C2121.3,1802.7 2121.7,1813.1 2122.7,1819.7 C2123.6,1826.3 2124.0,1831.5 2126.8,1838.8 C2129.7,1846.2 2134.9,1856.8 2139.7,1863.8 C2144.6,1870.7 2150.4,1876.1 2155.9,1880.6 C2161.5,1885.1 2170.3,1889.1 2173.2,1890.8" fill="none" stroke="#E8202A" stroke-width="4.6"/>
<path d="M2169.9,1716.1 C2172.6,1716.0 2181.0,1715.2 2186.5,1715.3 C2192.0,1715.4 2199.0,1715.8 2203.1,1717.0 C2207.2,1718.1 2210.3,1718.3 2211.0,1721.9 C2211.8,1725.6 2209.0,1732.3 2207.7,1738.6 C2206.5,1744.8 2203.9,1753.1 2203.6,1759.4 C2203.2,1765.6 2204.0,1770.8 2205.6,1776.0 C2207.3,1781.2 2209.8,1785.7 2213.5,1790.6 C2217.3,1795.4 2222.3,1799.9 2228.1,1805.1 C2233.9,1810.3 2245.1,1819.0 2248.5,1821.8" fill="none" stroke="#555" stroke-width="3.6"/>
<path d="M2169.9,1716.1 C2172.6,1716.0 2181.0,1715.2 2186.5,1715.3 C2192.0,1715.4 2199.0,1715.8 2203.1,1717.0 C2207.2,1718.1 2210.3,1718.3 2211.0,1721.9 C2211.8,1725.6 2209.0,1732.3 2207.7,1738.6 C2206.5,1744.8 2203.9,1753.1 2203.6,1759.4 C2203.2,1765.6 2204.0,1770.8 2205.6,1776.0 C2207.3,1781.2 2209.8,1785.7 2213.5,1790.6 C2217.3,1795.4 2222.3,1799.9 2228.1,1805.1 C2233.9,1810.3 2245.1,1819.0 2248.5,1821.8" fill="none" stroke="#eee" stroke-width="1.5"/>
<path d="M2248.5,1822.8 C2247.8,1826.1 2247.4,1835.8 2244.7,1842.6 C2242.0,1849.3 2237.1,1857.1 2232.3,1863.4 C2227.4,1869.6 2221.7,1875.1 2215.6,1880.0 C2209.5,1884.9 2199.2,1890.7 2195.9,1892.9" fill="none" stroke="#555" stroke-width="3.6"/>
<path d="M2248.5,1822.8 C2247.8,1826.1 2247.4,1835.8 2244.7,1842.6 C2242.0,1849.3 2237.1,1857.1 2232.3,1863.4 C2227.4,1869.6 2221.7,1875.1 2215.6,1880.0 C2209.5,1884.9 2199.2,1890.7 2195.9,1892.9" fill="none" stroke="#eee" stroke-width="1.5"/>
<path d="M2213.5,1732.3 C2213.5,1735.8 2213.2,1746.9 2213.5,1753.1 C2213.9,1759.4 2214.2,1764.2 2215.6,1769.8 C2217.0,1775.3 2219.4,1781.6 2221.9,1786.4 C2224.3,1791.3 2228.8,1796.8 2230.2,1798.9" fill="none" stroke="#888" stroke-width="1.2"/>
<path d="M2216.9,1735.5 C2216.5,1737.6 2215.1,1746.4 2214.8,1748.6" fill="none" stroke="#7B1FA2" stroke-width="2.6"/>
<path d="M2230.6,1792.2 C2229.2,1792.7 2224.4,1793.2 2222.3,1794.7 C2220.1,1796.3 2219.2,1799.0 2217.7,1801.4 C2216.2,1803.7 2213.9,1807.6 2213.1,1808.9" fill="none" stroke="#8B4A12" stroke-width="3.4" stroke-linecap="round"/>
<g transform="translate(2129.3,1740.7) scale(0.460) translate(-1893,-338.3)"><path d="M2002.2,342.1 C2003.7,338.6 2006.6,338.3 2012.5,338.3 L2034.7,339.2 C2039.1,342.1 2041.5,347.4 2043.5,352.7 C2045.6,356.3 2048.6,358.6 2048.0,362.2 C2045.6,366.3 2041.5,365.7 2037.6,363.4 C2031.7,361.6 2024.9,362.2 2022.0,366.9 C2019.6,379.9 2021.4,403.5 2019.0,421.2 C2017.0,433.6 2010.2,442.5 2002.2,447.8 C1994.8,441.9 1986.0,434.5 1977.1,433.0 C1983.0,444.8 1988.9,458.1 1994.8,468.5 C2000.7,474.4 2006.6,478.8 2010.2,483.2 C2006.6,489.7 2002.2,495.6 1990.4,499.7 C1986.6,500.9 1983.6,503.3 1984.8,506.2 C1987.2,509.8 1985.4,514.2 1988.9,520.1 C1993.4,526.0 1997.2,533.4 1997.2,545.2 C1997.2,562.9 1988.9,582.1 1974.2,592.4 C1960.9,601.3 1944.6,604.2 1931.4,601.3 C1924.0,596.9 1913.7,583.6 1907.7,567.3 C1904.8,557.0 1905.7,537.8 1909.2,531.0 C1910.4,524.5 1909.2,515.7 1904.8,506.8 C1898.9,496.5 1893.0,483.2 1893.0,465.5 C1893.9,441.9 1901.8,418.3 1912.2,397.6 C1924.0,376.9 1938.7,360.7 1953.5,350.4 C1962.4,344.5 1971.2,343.9 1980.7,345.9 C1988.9,348.9 1996.3,362.2 2000.1,371.6 C2002.5,362.2 2000.7,350.4 2002.2,342.1 Z" fill="none" stroke="#666" stroke-width="3.04" stroke-linecap="round"/><path d="M2000.1,371.6 C1998.4,382.8 1999.3,397.6 2005.2,410.9" fill="none" stroke="#666" stroke-width="3.04" stroke-linecap="round"/><path d="M1961.8,384.3 C1963.8,397.6 1969.7,410.9 1974.2,422.7" fill="none" stroke="#666" stroke-width="3.04" stroke-linecap="round"/><path d="M1916.6,459.0 C1926.9,456.6 1941.7,446.3 1959.4,437.5 C1966.8,434.5 1971.2,430.1 1974.2,422.7" fill="none" stroke="#666" stroke-width="3.04" stroke-linecap="round"/><path d="M1944.1,489.1 C1947.6,484.7 1951.1,477.3 1955.0,471.4 C1962.4,469.0 1972.7,472.9 1978.6,480.3 C1984.5,487.6 1986.6,495.0 1990.4,499.7" fill="none" stroke="#666" stroke-width="3.04" stroke-linecap="round"/><path d="M1944.1,489.1 C1950.6,486.2 1960.9,482.0 1969.7,483.8 C1975.9,487.6 1978.9,496.5 1984.8,506.2" fill="none" stroke="#666" stroke-width="3.04" stroke-linecap="round"/><path d="M1975.6,424.2 C1988.9,433.0 2000.7,450.7 2012.5,465.5 C2027.3,483.2 2050.9,489.1 2076.0,481.7" fill="none" stroke="#666" stroke-width="3.04" stroke-linecap="round"/><path d="M1969.7,434.5 C1980.1,441.9 1991.9,459.6 2006.6,475.8 C2024.4,495.0 2050.9,499.4 2077.5,490.6" fill="none" stroke="#666" stroke-width="3.04" stroke-linecap="round"/></g>
<path d="M2183.3,1878 H2189.7 V1954.5 H2193.0 L2186.5,1961 L2180.0,1954.5 H2183.3 Z" fill="#111"/>
<text x="2131.8" y="2022.2" font-family='"Liberation Sans", sans-serif' font-weight="bold" font-size="48.97" fill="#000" textLength="114.3" lengthAdjust="spacingAndGlyphs" >ROM</text>
<!--ROMLABELS-->
<path d="M824.5,2071 L2335,2196 L824.5,2323 Z" fill="#FF0000"/>
<path d="M711.7,2370.6 L754.4,2329 L754.4,2350 L2335,2350 L2335,2391.4 L754.4,2391.4 L754.4,2413 Z" fill="#000"/>
<text x="283.5" y="2170.8" font-family='"Liberation Sans", sans-serif' font-weight="bold" font-size="63.40" fill="#000" textLength="489.7" lengthAdjust="spacingAndGlyphs" >ROM-to-delivery</text>
<text x="298.0" y="2246.0" font-family='"Liberation Sans", sans-serif' font-weight="bold" font-size="63.76" fill="#000" textLength="464.1" lengthAdjust="spacingAndGlyphs" >interval (hours)</text>
<text x="835.7" y="2225.0" font-family='"Liberation Sans", sans-serif' font-weight="bold" font-size="79.66" fill="#000" textLength="269.9" lengthAdjust="spacingAndGlyphs" >Longer</text>
<text x="2053.7" y="2225.3" font-family='"Liberation Sans", sans-serif' font-weight="bold" font-size="79.44" fill="#000" textLength="282.5" lengthAdjust="spacingAndGlyphs" >Shorter</text>
<text x="1036.8" y="2453.7" font-family='"Liberation Sans", sans-serif' font-weight="bold" font-size="63.49" fill="#000" textLength="1083.0" lengthAdjust="spacingAndGlyphs" >Lower Gestational Age (GA) at ROM</text>
<rect x="2629.3" y="26.0" width="7.2" height="2472.0" fill="#000" stroke="none" stroke-width="0" />
<rect x="2643.0" y="32.5" width="1528.5" height="206.1" fill="#000" stroke="none" stroke-width="0" />
<text x="2654.9" y="116.2" font-family='"Liberation Sans", sans-serif' font-weight="bold" font-size="79.24" fill="#fff" textLength="1056.6" lengthAdjust="spacingAndGlyphs" >What does this study add to</text>
<text x="2655.2" y="212.7" font-family='"Liberation Sans", sans-serif' font-weight="bold" font-size="79.17" fill="#fff" textLength="1416.5" lengthAdjust="spacingAndGlyphs" >what is already known Carroll Model?</text>
<rect x="2755.2" y="250.6" width="491.6" height="66.9" fill="#C55A11" stroke="none" stroke-width="0" />
<text x="2955.7" y="300.3" font-family='"Liberation Sans", sans-serif' font-weight="bold" font-size="46.23" fill="#fff" textLength="87.3" lengthAdjust="spacingAndGlyphs" >PTL</text>
<rect x="3521.7" y="250.6" width="603.0" height="66.9" fill="#7030A0" stroke="none" stroke-width="0" />
<text x="3663.2" y="299.4" font-family='"Liberation Sans", sans-serif' font-weight="bold" font-size="44.89" fill="#fff" textLength="319.3" lengthAdjust="spacingAndGlyphs" >Preterm-PROM</text>
<line x1="3415" y1="254.5" x2="3415" y2="2499" stroke="#000" stroke-width="7" stroke-dasharray="7.2 7.18"/>
<path d="M2754.0,363.4 L2754.0,754.2" fill="none" stroke="#222" stroke-width="5.5"/>
<path d="M2744.5,744.2 L3328.0,744.2" fill="none" stroke="#222" stroke-width="5"/>
<line x1="2744.5" y1="649.5" x2="2754.0" y2="649.5" stroke="#222" stroke-width="4"/>
<text x="2699.6" y="653.3" font-family='"Liberation Serif", serif' font-weight="bold" font-size="17.70" fill="#222" textLength="40.1" lengthAdjust="spacingAndGlyphs" >1000</text>
<line x1="2744.5" y1="554.8" x2="2754.0" y2="554.8" stroke="#222" stroke-width="4"/>
<text x="2700.3" y="558.6" font-family='"Liberation Serif", serif' font-weight="bold" font-size="17.70" fill="#222" textLength="39.4" lengthAdjust="spacingAndGlyphs" >2000</text>
<line x1="2744.5" y1="460.1" x2="2754.0" y2="460.1" stroke="#222" stroke-width="4"/>
<text x="2700.3" y="463.9" font-family='"Liberation Serif", serif' font-weight="bold" font-size="17.70" fill="#222" textLength="39.3" lengthAdjust="spacingAndGlyphs" >3000</text>
<line x1="2744.5" y1="365.4" x2="2754.0" y2="365.4" stroke="#222" stroke-width="4"/>
<text x="2700.8" y="369.2" font-family='"Liberation Serif", serif' font-weight="bold" font-size="17.70" fill="#222" textLength="38.9" lengthAdjust="spacingAndGlyphs" >4000</text>
<text x="2728.8" y="754.4" font-family='"Liberation Serif", serif' font-weight="bold" font-size="17.70" fill="#222" textLength="10.8" lengthAdjust="spacingAndGlyphs" >0</text>
<text x="2744.6" y="768.4" font-family='"Liberation Serif", serif' font-weight="bold" font-size="17.70" fill="#222" textLength="19.1" lengthAdjust="spacingAndGlyphs" >20</text>
<line x1="2897.0" y1="744.2" x2="2897.0" y2="754.7" stroke="#222" stroke-width="3.8"/>
<text x="2887.6" y="768.4" font-family='"Liberation Serif", serif' font-weight="bold" font-size="17.70" fill="#222" textLength="19.1" lengthAdjust="spacingAndGlyphs" >25</text>
<line x1="3040.0" y1="744.2" x2="3040.0" y2="754.7" stroke="#222" stroke-width="3.8"/>
<text x="3030.6" y="768.4" font-family='"Liberation Serif", serif' font-weight="bold" font-size="17.70" fill="#222" textLength="19.0" lengthAdjust="spacingAndGlyphs" >30</text>
<line x1="3183.0" y1="744.2" x2="3183.0" y2="754.7" stroke="#222" stroke-width="3.8"/>
<text x="3173.6" y="768.4" font-family='"Liberation Serif", serif' font-weight="bold" font-size="17.70" fill="#222" textLength="19.0" lengthAdjust="spacingAndGlyphs" >35</text>
<line x1="3326.0" y1="744.2" x2="3326.0" y2="754.7" stroke="#222" stroke-width="3.8"/>
<text x="3317.1" y="768.4" font-family='"Liberation Serif", serif' font-weight="bold" font-size="17.70" fill="#222" textLength="18.6" lengthAdjust="spacingAndGlyphs" >40</text>
<text x="2777.2" y="374.4" font-family='"Liberation Serif", serif' font-weight="bold" font-size="24.81" fill="#000" textLength="149.6" lengthAdjust="spacingAndGlyphs" >IAI (-) in PTL</text>
<circle cx="2790.2" cy="342.4" r="7.2" fill="#000"/>
<text x="3113.3" y="407.8" font-family='"Liberation Serif", serif' font-weight="bold" font-size="13.00" fill="#FF0000" textLength="7.6" lengthAdjust="spacingAndGlyphs" >γ</text>
<text x="3120.4" y="409.3" font-family='"Liberation Serif", serif' font-weight="bold" font-size="10.00" fill="#FF0000" textLength="5.0" lengthAdjust="spacingAndGlyphs" >s</text>
<text x="3127.1" y="404.3" font-family='"Liberation Serif", serif' font-weight="bold" font-size="22.17" fill="#FF0000" textLength="75.4" lengthAdjust="spacingAndGlyphs" >= -0.360</text>
<text x="3113.4" y="432.0" font-family='"Liberation Serif", serif' font-weight="bold" font-size="22.44" fill="#FF0000" textLength="110.7" lengthAdjust="spacingAndGlyphs" >P=0.000003</text>
<text x="3033.3" y="456.8" font-family='"Liberation Serif", serif' font-weight="bold" font-size="19.02" fill="#FF0000" textLength="265.7" lengthAdjust="spacingAndGlyphs" >Spearman Rank Correlation test</text>
<text x="2857.9" y="790.6" font-family='"Liberation Serif", serif' font-weight="bold" font-size="20.97" fill="#222" textLength="363.4" lengthAdjust="spacingAndGlyphs" >Gestational age at amniocentesis (weeks)</text>
<text transform="translate(2682.0,741.9) rotate(-90)" x="0" y="0" font-family='"Liberation Serif", serif' font-weight="bold" font-size="20.75" fill="#222" textLength="374.5" lengthAdjust="spacingAndGlyphs">Amniocentesis-to-delivery interval (hours)</text>
<path d="M2798.2,460.0h5v5h-5zM2829.4,481.6h5v5h-5zM2835.2,501.9h5v5h-5zM2863.5,465.2h5v5h-5zM2863.5,487.4h5v5h-5zM2869.3,531.5h5v5h-5zM2821.0,542.1h5v5h-5zM2892.2,533.1h5v5h-5zM2935.0,518.3h5v5h-5zM2948.8,536.3h5v5h-5zM2915.0,553.4h5v5h-5zM2961.1,555.0h5v5h-5zM2926.3,572.1h5v5h-5zM2992.3,566.6h5v5h-5zM2997.7,562.4h5v5h-5zM2980.4,579.5h5v5h-5zM3012.2,573.3h5v5h-5zM3020.6,573.7h5v5h-5zM3012.2,584.6h5v5h-5zM2997.7,592.0h5v5h-5zM3009.3,593.6h5v5h-5zM3011.6,596.2h5v5h-5zM2989.1,600.1h5v5h-5zM3008.4,599.4h5v5h-5zM2952.0,600.7h5v5h-5zM3026.1,604.9h5v5h-5zM3040.6,608.8h5v5h-5zM3048.6,595.2h5v5h-5zM3055.0,591.4h5v5h-5zM3055.0,607.1h5v5h-5zM3069.5,612.9h5v5h-5zM3083.4,603.9h5v5h-5zM3111.4,594.6h5v5h-5zM3115.2,589.8h5v5h-5zM3009.3,619.4h5v5h-5zM3028.7,623.6h5v5h-5zM3066.3,621.0h5v5h-5zM3083.4,618.4h5v5h-5zM3094.6,617.1h5v5h-5zM2983.6,628.7h5v5h-5zM3066.3,632.3h5v5h-5zM3074.4,628.4h5v5h-5zM3077.6,628.4h5v5h-5zM2849.0,631.0h5v5h-5zM2907.0,638.4h5v5h-5zM3018.0,643.2h5v5h-5zM3018.0,655.1h5v5h-5zM3037.7,651.2h5v5h-5zM3055.0,660.6h5v5h-5zM2920.5,665.7h5v5h-5zM3094.6,638.7h5v5h-5zM3103.0,634.8h5v5h-5zM3116.2,625.2h5v5h-5zM3121.0,624.2h5v5h-5zM3122.6,636.1h5v5h-5zM3127.5,638.7h5v5h-5zM3132.3,631.6h5v5h-5zM3132.3,641.3h5v5h-5zM3149.0,631.0h5v5h-5zM3092.1,655.4h5v5h-5zM3095.3,657.0h5v5h-5zM3098.5,654.8h5v5h-5zM3111.4,655.1h5v5h-5zM3011.6,674.7h5v5h-5zM3018.0,684.7h5v5h-5zM3056.7,675.7h5v5h-5zM3056.7,680.5h5v5h-5zM3055.0,683.8h5v5h-5zM3074.4,672.5h5v5h-5zM3077.6,676.7h5v5h-5zM3084.0,672.5h5v5h-5zM3080.8,680.5h5v5h-5zM3094.6,673.5h5v5h-5zM3104.9,675.7h5v5h-5zM3106.6,678.0h5v5h-5zM3135.5,673.5h5v5h-5zM3142.0,674.7h5v5h-5zM3069.5,686.3h5v5h-5zM3077.6,691.2h5v5h-5zM3087.2,689.6h5v5h-5zM3092.1,691.8h5v5h-5zM3028.7,699.9h5v5h-5zM3074.4,700.8h5v5h-5zM3092.1,708.2h5v5h-5zM3133.9,691.2h5v5h-5zM3127.5,696.6h5v5h-5zM3120.1,700.5h5v5h-5zM3149.0,698.9h5v5h-5zM3143.6,706.3h5v5h-5zM3142.9,711.1h5v5h-5zM3048.6,711.1h5v5h-5zM2858.0,696.6h5v5h-5zM2903.8,710.2h5v5h-5zM2963.3,705.6h5v5h-5zM3114.6,716.9h5v5h-5zM3119.4,717.6h5v5h-5zM3132.3,715.0h5v5h-5zM3134.9,719.2h5v5h-5zM3149.0,724.0h5v5h-5zM3066.3,722.7h5v5h-5zM3049.3,726.9h5v5h-5zM2858.0,731.4h5v5h-5zM2983.6,732.7h5v5h-5zM3101.7,734.3h5v5h-5zM3142.0,731.1h5v5h-5zM3146.8,734.3h5v5h-5zM2897.3,740.7h5v5h-5zM3000.3,740.7h5v5h-5zM3027.7,740.7h5v5h-5zM3047.0,740.7h5v5h-5zM3056.7,740.7h5v5h-5zM3074.4,740.7h5v5h-5zM3079.2,740.7h5v5h-5zM3092.1,740.7h5v5h-5zM3101.7,740.7h5v5h-5zM3113.0,740.7h5v5h-5zM3127.5,740.7h5v5h-5zM3133.9,740.7h5v5h-5zM3145.2,740.7h5v5h-5zM3150.0,740.7h5v5h-5zM2952.0,736.2h5v5h-5zM2955.3,739.1h5v5h-5zM2961.1,740.7h5v5h-5zM2992.3,738.5h5v5h-5zM3009.3,739.4h5v5h-5zM3037.3,739.1h5v5h-5zM3066.3,740.1h5v5h-5zM3069.5,736.2h5v5h-5zM3084.0,737.5h5v5h-5zM3087.2,740.1h5v5h-5zM3117.8,740.1h5v5h-5zM3124.3,739.4h5v5h-5zM3138.7,740.1h5v5h-5zM3142.0,736.9h5v5h-5z" fill="#000" stroke="#000" stroke-width="1" stroke-linejoin="round"/>
<path d="M2753.3,853.8 L2753.3,1244.6" fill="none" stroke="#222" stroke-width="5.5"/>
<path d="M2743.8,1234.6 L3327.3,1234.6" fill="none" stroke="#222" stroke-width="5"/>
<line x1="2743.8" y1="1139.9" x2="2753.3" y2="1139.9" stroke="#222" stroke-width="4"/>
<text x="2698.9" y="1143.7" font-family='"Liberation Serif", serif' font-weight="bold" font-size="17.70" fill="#222" textLength="40.1" lengthAdjust="spacingAndGlyphs" >1000</text>
<line x1="2743.8" y1="1045.2" x2="2753.3" y2="1045.2" stroke="#222" stroke-width="4"/>
<text x="2699.6" y="1049.0" font-family='"Liberation Serif", serif' font-weight="bold" font-size="17.70" fill="#222" textLength="39.4" lengthAdjust="spacingAndGlyphs" >2000</text>
<line x1="2743.8" y1="950.5" x2="2753.3" y2="950.5" stroke="#222" stroke-width="4"/>
<text x="2699.6" y="954.3" font-family='"Liberation Serif", serif' font-weight="bold" font-size="17.70" fill="#222" textLength="39.3" lengthAdjust="spacingAndGlyphs" >3000</text>
<line x1="2743.8" y1="855.8" x2="2753.3" y2="855.8" stroke="#222" stroke-width="4"/>
<text x="2700.1" y="859.6" font-family='"Liberation Serif", serif' font-weight="bold" font-size="17.70" fill="#222" textLength="38.9" lengthAdjust="spacingAndGlyphs" >4000</text>
<text x="2728.1" y="1244.8" font-family='"Liberation Serif", serif' font-weight="bold" font-size="17.70" fill="#222" textLength="10.8" lengthAdjust="spacingAndGlyphs" >0</text>
<text x="2743.9" y="1258.8" font-family='"Liberation Serif", serif' font-weight="bold" font-size="17.70" fill="#222" textLength="19.1" lengthAdjust="spacingAndGlyphs" >20</text>
<line x1="2896.3" y1="1234.6" x2="2896.3" y2="1245.1" stroke="#222" stroke-width="3.8"/>
<text x="2886.9" y="1258.8" font-family='"Liberation Serif", serif' font-weight="bold" font-size="17.70" fill="#222" textLength="19.1" lengthAdjust="spacingAndGlyphs" >25</text>
<line x1="3039.3" y1="1234.6" x2="3039.3" y2="1245.1" stroke="#222" stroke-width="3.8"/>
<text x="3029.9" y="1258.8" font-family='"Liberation Serif", serif' font-weight="bold" font-size="17.70" fill="#222" textLength="19.0" lengthAdjust="spacingAndGlyphs" >30</text>
<line x1="3182.3" y1="1234.6" x2="3182.3" y2="1245.1" stroke="#222" stroke-width="3.8"/>
<text x="3172.9" y="1258.8" font-family='"Liberation Serif", serif' font-weight="bold" font-size="17.70" fill="#222" textLength="19.0" lengthAdjust="spacingAndGlyphs" >35</text>
<line x1="3325.3" y1="1234.6" x2="3325.3" y2="1245.1" stroke="#222" stroke-width="3.8"/>
<text x="3316.4" y="1258.8" font-family='"Liberation Serif", serif' font-weight="bold" font-size="17.70" fill="#222" textLength="18.6" lengthAdjust="spacingAndGlyphs" >40</text>
<text x="2778.6" y="861.8" font-family='"Liberation Serif", serif' font-weight="bold" font-size="24.65" fill="#0000FF" textLength="174.7" lengthAdjust="spacingAndGlyphs" >Mild IAI in PTL</text>
<circle cx="2790.3" cy="830.6" r="7.2" fill="#0000FF"/>
<text x="3113.3" y="896.8" font-family='"Liberation Serif", serif' font-weight="bold" font-size="13.00" fill="#FF0000" textLength="7.6" lengthAdjust="spacingAndGlyphs" >γ</text>
<text x="3120.4" y="898.3" font-family='"Liberation Serif", serif' font-weight="bold" font-size="10.00" fill="#FF0000" textLength="5.0" lengthAdjust="spacingAndGlyphs" >s</text>
<text x="3127.1" y="893.3" font-family='"Liberation Serif", serif' font-weight="bold" font-size="22.17" fill="#FF0000" textLength="75.4" lengthAdjust="spacingAndGlyphs" >= -0.290</text>
<text x="3113.4" y="920.7" font-family='"Liberation Serif", serif' font-weight="bold" font-size="22.68" fill="#FF0000" textLength="77.8" lengthAdjust="spacingAndGlyphs" >P=0.039</text>
<text x="3033.3" y="945.5" font-family='"Liberation Serif", serif' font-weight="bold" font-size="19.02" fill="#FF0000" textLength="265.7" lengthAdjust="spacingAndGlyphs" >Spearman Rank Correlation test</text>
<text x="2896.5" y="1278.5" font-family='"Liberation Serif", serif' font-weight="bold" font-size="21.01" fill="#222" textLength="364.0" lengthAdjust="spacingAndGlyphs" >Gestational age at amniocentesis (weeks)</text>
<text transform="translate(2682.0,1231.2) rotate(-90)" x="0" y="0" font-family='"Liberation Serif", serif' font-weight="bold" font-size="20.78" fill="#222" textLength="375.1" lengthAdjust="spacingAndGlyphs">Amniocentesis-to-delivery interval (hours)</text>
<path d="M2828.7,983.3h5v5h-5zM2923.0,1005.8h5v5h-5zM2857.3,1086.3h5v5h-5zM2934.3,1079.5h5v5h-5zM2942.6,1104.6h5v5h-5zM3005.4,1081.8h5v5h-5zM3025.4,1159.7h5v5h-5zM3068.8,1169.3h5v5h-5zM2808.7,1200.6h5v5h-5zM2811.6,1212.1h5v5h-5zM2906.3,1200.2h5v5h-5zM2897.3,1220.5h5v5h-5zM2954.2,1205.7h5v5h-5zM2968.4,1207.0h5v5h-5zM2988.4,1200.6h5v5h-5zM2997.0,1201.2h5v5h-5zM2942.6,1224.1h5v5h-5zM2977.1,1223.1h5v5h-5zM3010.9,1228.9h5v5h-5zM3036.6,1225.0h5v5h-5zM3056.6,1222.4h5v5h-5zM3073.7,1218.3h5v5h-5zM3102.3,1217.0h5v5h-5zM3119.4,1214.4h5v5h-5zM3062.4,1228.9h5v5h-5zM2866.0,1231.5h5v5h-5zM2882.8,1231.5h5v5h-5zM2891.8,1231.5h5v5h-5zM2923.0,1231.5h5v5h-5zM2925.6,1231.5h5v5h-5zM2968.4,1231.5h5v5h-5zM2977.1,1231.5h5v5h-5zM3008.6,1231.5h5v5h-5zM3010.9,1231.5h5v5h-5zM3033.4,1231.5h5v5h-5zM3045.3,1231.5h5v5h-5zM3054.3,1231.5h5v5h-5zM3097.8,1231.5h5v5h-5zM3102.3,1231.5h5v5h-5zM3113.9,1231.5h5v5h-5zM3118.7,1231.5h5v5h-5zM3125.2,1231.5h5v5h-5zM3133.2,1231.5h5v5h-5zM3139.6,1231.5h5v5h-5zM3148.3,1231.5h5v5h-5z" fill="#0000FF" stroke="#0000FF" stroke-width="1" stroke-linejoin="round"/>
<path d="M2751.0,1346.3 L2751.0,1737.1" fill="none" stroke="#222" stroke-width="5.5"/>
<path d="M2741.5,1727.1 L3325.0,1727.1" fill="none" stroke="#222" stroke-width="5"/>
<line x1="2741.5" y1="1632.4" x2="2751.0" y2="1632.4" stroke="#222" stroke-width="4"/>
<text x="2696.6" y="1636.2" font-family='"Liberation Serif", serif' font-weight="bold" font-size="17.70" fill="#222" textLength="40.1" lengthAdjust="spacingAndGlyphs" >1000</text>
<line x1="2741.5" y1="1537.7" x2="2751.0" y2="1537.7" stroke="#222" stroke-width="4"/>
<text x="2697.3" y="1541.5" font-family='"Liberation Serif", serif' font-weight="bold" font-size="17.70" fill="#222" textLength="39.4" lengthAdjust="spacingAndGlyphs" >2000</text>
<line x1="2741.5" y1="1443.0" x2="2751.0" y2="1443.0" stroke="#222" stroke-width="4"/>
<text x="2697.3" y="1446.8" font-family='"Liberation Serif", serif' font-weight="bold" font-size="17.70" fill="#222" textLength="39.3" lengthAdjust="spacingAndGlyphs" >3000</text>
<line x1="2741.5" y1="1348.3" x2="2751.0" y2="1348.3" stroke="#222" stroke-width="4"/>
<text x="2697.8" y="1352.1" font-family='"Liberation Serif", serif' font-weight="bold" font-size="17.70" fill="#222" textLength="38.9" lengthAdjust="spacingAndGlyphs" >4000</text>
<text x="2725.8" y="1737.3" font-family='"Liberation Serif", serif' font-weight="bold" font-size="17.70" fill="#222" textLength="10.8" lengthAdjust="spacingAndGlyphs" >0</text>
<text x="2741.6" y="1751.3" font-family='"Liberation Serif", serif' font-weight="bold" font-size="17.70" fill="#222" textLength="19.1" lengthAdjust="spacingAndGlyphs" >20</text>
<line x1="2894.0" y1="1727.1" x2="2894.0" y2="1737.6" stroke="#222" stroke-width="3.8"/>
<text x="2884.6" y="1751.3" font-family='"Liberation Serif", serif' font-weight="bold" font-size="17.70" fill="#222" textLength="19.1" lengthAdjust="spacingAndGlyphs" >25</text>
<line x1="3037.0" y1="1727.1" x2="3037.0" y2="1737.6" stroke="#222" stroke-width="3.8"/>
<text x="3027.6" y="1751.3" font-family='"Liberation Serif", serif' font-weight="bold" font-size="17.70" fill="#222" textLength="19.0" lengthAdjust="spacingAndGlyphs" >30</text>
<line x1="3180.0" y1="1727.1" x2="3180.0" y2="1737.6" stroke="#222" stroke-width="3.8"/>
<text x="3170.6" y="1751.3" font-family='"Liberation Serif", serif' font-weight="bold" font-size="17.70" fill="#222" textLength="19.0" lengthAdjust="spacingAndGlyphs" >35</text>
<line x1="3323.0" y1="1727.1" x2="3323.0" y2="1737.6" stroke="#222" stroke-width="3.8"/>
<text x="3314.1" y="1751.3" font-family='"Liberation Serif", serif' font-weight="bold" font-size="17.70" fill="#222" textLength="18.6" lengthAdjust="spacingAndGlyphs" >40</text>
<text x="2773.9" y="1356.0" font-family='"Liberation Serif", serif' font-weight="bold" font-size="24.96" fill="#FF0000" textLength="196.2" lengthAdjust="spacingAndGlyphs" >Severe IAI in PTL</text>
<circle cx="2787.4" cy="1324.4" r="7.2" fill="#FF0000"/>
<text x="3110.1" y="1390.1" font-family='"Liberation Serif", serif' font-weight="bold" font-size="13.00" fill="#FF0000" textLength="7.6" lengthAdjust="spacingAndGlyphs" >γ</text>
<text x="3117.2" y="1391.6" font-family='"Liberation Serif", serif' font-weight="bold" font-size="10.00" fill="#FF0000" textLength="5.0" lengthAdjust="spacingAndGlyphs" >s</text>
<text x="3123.9" y="1386.6" font-family='"Liberation Serif", serif' font-weight="bold" font-size="22.46" fill="#FF0000" textLength="76.4" lengthAdjust="spacingAndGlyphs" >= -0.299</text>
<text x="3111.2" y="1414.0" font-family='"Liberation Serif", serif' font-weight="bold" font-size="22.36" fill="#FF0000" textLength="76.7" lengthAdjust="spacingAndGlyphs" >P=0.048</text>
<text x="3030.7" y="1438.7" font-family='"Liberation Serif", serif' font-weight="bold" font-size="19.05" fill="#FF0000" textLength="266.1" lengthAdjust="spacingAndGlyphs" >Spearman Rank Correlation test</text>
<text x="2894.3" y="1771.5" font-family='"Liberation Serif", serif' font-weight="bold" font-size="21.01" fill="#222" textLength="364.0" lengthAdjust="spacingAndGlyphs" >Gestational age at amniocentesis (weeks)</text>
<text transform="translate(2680.0,1724.2) rotate(-90)" x="0" y="0" font-family='"Liberation Serif", serif' font-weight="bold" font-size="20.78" fill="#222" textLength="375.1" lengthAdjust="spacingAndGlyphs">Amniocentesis-to-delivery interval (hours)</text>
<path d="M2997.0,1570.7h5v5h-5zM2824.1,1673.1h5v5h-5zM3102.3,1701.7h5v5h-5zM2937.5,1705.6h5v5h-5zM2854.7,1709.8h5v5h-5zM2866.0,1714.0h5v5h-5zM2883.7,1717.2h5v5h-5zM2911.7,1716.2h5v5h-5zM2961.0,1717.2h5v5h-5zM3073.6,1717.2h5v5h-5zM3091.3,1717.2h5v5h-5zM2854.7,1718.8h5v5h-5zM2965.8,1720.4h5v5h-5zM3073.6,1720.4h5v5h-5zM2837.7,1723.6h5v5h-5zM2851.5,1723.6h5v5h-5zM2856.3,1723.6h5v5h-5zM2866.6,1723.6h5v5h-5zM2883.7,1723.6h5v5h-5zM2901.4,1723.6h5v5h-5zM2904.6,1723.6h5v5h-5zM2911.7,1723.6h5v5h-5zM2920.7,1723.6h5v5h-5zM2948.7,1723.6h5v5h-5zM2957.7,1723.6h5v5h-5zM2994.7,1723.6h5v5h-5zM3008.6,1723.6h5v5h-5zM3025.3,1723.6h5v5h-5zM3028.5,1723.6h5v5h-5zM3036.6,1723.6h5v5h-5zM3046.3,1723.6h5v5h-5zM3065.6,1723.6h5v5h-5zM3088.1,1723.6h5v5h-5zM3112.2,1723.6h5v5h-5zM3131.6,1723.6h5v5h-5zM3136.4,1723.6h5v5h-5zM3146.0,1723.6h5v5h-5z" fill="#FF0000" stroke="#FF0000" stroke-width="1" stroke-linejoin="round"/>
<path d="M2767.1,2055.7 L2767.1,2446.5" fill="none" stroke="#222" stroke-width="5.5"/>
<path d="M2757.6,2436.5 L3341.1,2436.5" fill="none" stroke="#222" stroke-width="5"/>
<line x1="2757.6" y1="2341.8" x2="2767.1" y2="2341.8" stroke="#222" stroke-width="4"/>
<text x="2712.7" y="2345.6" font-family='"Liberation Serif", serif' font-weight="bold" font-size="17.70" fill="#222" textLength="40.1" lengthAdjust="spacingAndGlyphs" >1000</text>
<line x1="2757.6" y1="2247.1" x2="2767.1" y2="2247.1" stroke="#222" stroke-width="4"/>
<text x="2713.4" y="2250.9" font-family='"Liberation Serif", serif' font-weight="bold" font-size="17.70" fill="#222" textLength="39.4" lengthAdjust="spacingAndGlyphs" >2000</text>
<line x1="2757.6" y1="2152.4" x2="2767.1" y2="2152.4" stroke="#222" stroke-width="4"/>
<text x="2713.4" y="2156.2" font-family='"Liberation Serif", serif' font-weight="bold" font-size="17.70" fill="#222" textLength="39.3" lengthAdjust="spacingAndGlyphs" >3000</text>
<line x1="2757.6" y1="2057.7" x2="2767.1" y2="2057.7" stroke="#222" stroke-width="4"/>
<text x="2713.9" y="2061.5" font-family='"Liberation Serif", serif' font-weight="bold" font-size="17.70" fill="#222" textLength="38.9" lengthAdjust="spacingAndGlyphs" >4000</text>
<text x="2741.9" y="2446.7" font-family='"Liberation Serif", serif' font-weight="bold" font-size="17.70" fill="#222" textLength="10.8" lengthAdjust="spacingAndGlyphs" >0</text>
<text x="2757.7" y="2460.7" font-family='"Liberation Serif", serif' font-weight="bold" font-size="17.70" fill="#222" textLength="19.1" lengthAdjust="spacingAndGlyphs" >20</text>
<line x1="2910.1" y1="2436.5" x2="2910.1" y2="2447.0" stroke="#222" stroke-width="3.8"/>
<text x="2900.7" y="2460.7" font-family='"Liberation Serif", serif' font-weight="bold" font-size="17.70" fill="#222" textLength="19.1" lengthAdjust="spacingAndGlyphs" >25</text>
<line x1="3053.1" y1="2436.5" x2="3053.1" y2="2447.0" stroke="#222" stroke-width="3.8"/>
<text x="3043.7" y="2460.7" font-family='"Liberation Serif", serif' font-weight="bold" font-size="17.70" fill="#222" textLength="19.0" lengthAdjust="spacingAndGlyphs" >30</text>
<line x1="3196.1" y1="2436.5" x2="3196.1" y2="2447.0" stroke="#222" stroke-width="3.8"/>
<text x="3186.7" y="2460.7" font-family='"Liberation Serif", serif' font-weight="bold" font-size="17.70" fill="#222" textLength="19.0" lengthAdjust="spacingAndGlyphs" >35</text>
<line x1="3339.1" y1="2436.5" x2="3339.1" y2="2447.0" stroke="#222" stroke-width="3.8"/>
<text x="3330.2" y="2460.7" font-family='"Liberation Serif", serif' font-weight="bold" font-size="17.70" fill="#222" textLength="18.6" lengthAdjust="spacingAndGlyphs" >40</text>
<text x="2791.5" y="2041.2" font-family='"Liberation Serif", serif' font-weight="bold" font-size="24.36" fill="#000" textLength="311.2" lengthAdjust="spacingAndGlyphs" >Total cases irrespective of IAI</text>
<text x="2791.4" y="2064.0" font-family='"Liberation Serif", serif' font-weight="bold" font-size="24.45" fill="#000" textLength="74.1" lengthAdjust="spacingAndGlyphs" >in PTL</text>
<text x="3126.1" y="2098.8" font-family='"Liberation Serif", serif' font-weight="bold" font-size="13.00" fill="#FF0000" textLength="7.6" lengthAdjust="spacingAndGlyphs" >γ</text>
<text x="3133.2" y="2100.3" font-family='"Liberation Serif", serif' font-weight="bold" font-size="10.00" fill="#FF0000" textLength="5.0" lengthAdjust="spacingAndGlyphs" >s</text>
<text x="3139.9" y="2095.3" font-family='"Liberation Serif", serif' font-weight="bold" font-size="22.24" fill="#FF0000" textLength="75.7" lengthAdjust="spacingAndGlyphs" >= -0.122</text>
<text x="3126.3" y="2122.7" font-family='"Liberation Serif", serif' font-weight="bold" font-size="23.05" fill="#FF0000" textLength="67.5" lengthAdjust="spacingAndGlyphs" >P=0.05</text>
<text x="3046.2" y="2147.8" font-family='"Liberation Serif", serif' font-weight="bold" font-size="19.03" fill="#FF0000" textLength="265.9" lengthAdjust="spacingAndGlyphs" >Spearman Rank Correlation test</text>
<text x="2910.4" y="2483.2" font-family='"Liberation Serif", serif' font-weight="bold" font-size="20.95" fill="#222" textLength="363.0" lengthAdjust="spacingAndGlyphs" >Gestational age at amniocentesis (weeks)</text>
<text transform="translate(2696.0,2435.2) rotate(-90)" x="0" y="0" font-family='"Liberation Serif", serif' font-weight="bold" font-size="20.95" fill="#222" textLength="378.1" lengthAdjust="spacingAndGlyphs">Amniocentesis-to-delivery interval (hours)</text>
<path d="M2811.3,2152.3h5v5h-5zM2842.5,2173.9h5v5h-5zM2848.3,2194.2h5v5h-5zM2876.6,2157.5h5v5h-5zM2876.6,2179.7h5v5h-5zM2882.4,2223.8h5v5h-5zM2834.1,2234.4h5v5h-5zM2905.3,2225.4h5v5h-5zM2948.1,2210.6h5v5h-5zM2961.9,2228.6h5v5h-5zM2928.1,2245.7h5v5h-5zM2974.2,2247.3h5v5h-5zM2939.4,2264.4h5v5h-5zM3005.4,2258.9h5v5h-5zM3010.8,2254.7h5v5h-5zM2993.5,2271.8h5v5h-5zM3025.3,2265.6h5v5h-5zM3033.7,2266.0h5v5h-5zM3025.3,2276.9h5v5h-5zM3010.8,2284.3h5v5h-5zM3022.4,2285.9h5v5h-5zM3024.7,2288.5h5v5h-5zM3002.2,2292.4h5v5h-5zM3021.5,2291.7h5v5h-5zM2965.1,2293.0h5v5h-5zM3039.2,2297.2h5v5h-5zM3053.7,2301.1h5v5h-5zM3061.7,2287.5h5v5h-5zM3068.1,2283.7h5v5h-5zM3068.1,2299.4h5v5h-5zM3082.6,2305.2h5v5h-5zM3096.5,2296.2h5v5h-5zM3124.5,2286.9h5v5h-5zM3128.3,2282.1h5v5h-5zM3022.4,2311.7h5v5h-5zM3041.8,2315.9h5v5h-5zM3079.4,2313.3h5v5h-5zM3096.5,2310.7h5v5h-5zM3107.7,2309.4h5v5h-5zM2996.7,2321.0h5v5h-5zM3079.4,2324.6h5v5h-5zM3087.5,2320.7h5v5h-5zM3090.7,2320.7h5v5h-5zM2862.1,2323.3h5v5h-5zM2920.1,2330.7h5v5h-5zM3031.1,2335.5h5v5h-5zM3031.1,2347.4h5v5h-5zM3050.8,2343.5h5v5h-5zM3068.1,2352.9h5v5h-5zM2933.6,2358.0h5v5h-5zM3107.7,2331.0h5v5h-5zM3116.1,2327.1h5v5h-5zM3129.3,2317.5h5v5h-5zM3134.1,2316.5h5v5h-5zM3135.7,2328.4h5v5h-5zM3140.6,2331.0h5v5h-5zM3145.4,2323.9h5v5h-5zM3145.4,2333.6h5v5h-5zM3162.1,2323.3h5v5h-5zM3105.2,2347.7h5v5h-5zM3108.4,2349.3h5v5h-5zM3111.6,2347.1h5v5h-5zM3124.5,2347.4h5v5h-5zM3024.7,2367.0h5v5h-5zM3031.1,2377.0h5v5h-5zM3069.8,2368.0h5v5h-5zM3069.8,2372.8h5v5h-5zM3068.1,2376.1h5v5h-5zM3087.5,2364.8h5v5h-5zM3090.7,2369.0h5v5h-5zM3097.1,2364.8h5v5h-5zM3093.9,2372.8h5v5h-5zM3107.7,2365.8h5v5h-5zM3118.0,2368.0h5v5h-5zM3119.7,2370.3h5v5h-5zM3148.6,2365.8h5v5h-5zM3155.1,2367.0h5v5h-5zM3082.6,2378.6h5v5h-5zM3090.7,2383.5h5v5h-5zM3100.3,2381.9h5v5h-5zM3105.2,2384.1h5v5h-5zM3041.8,2392.2h5v5h-5zM3087.5,2393.1h5v5h-5zM3105.2,2400.5h5v5h-5zM3147.0,2383.5h5v5h-5zM3140.6,2388.9h5v5h-5zM3133.2,2392.8h5v5h-5zM3162.1,2391.2h5v5h-5zM3156.7,2398.6h5v5h-5zM3156.0,2403.4h5v5h-5zM3061.7,2403.4h5v5h-5zM2871.1,2388.9h5v5h-5zM2916.9,2402.5h5v5h-5zM2976.4,2397.9h5v5h-5zM3127.7,2409.2h5v5h-5zM3132.5,2409.9h5v5h-5zM3145.4,2407.3h5v5h-5zM3148.0,2411.5h5v5h-5zM3162.1,2416.3h5v5h-5zM3079.4,2415.0h5v5h-5zM3062.4,2419.2h5v5h-5zM2871.1,2423.7h5v5h-5zM2996.7,2425.0h5v5h-5zM3114.8,2426.6h5v5h-5zM3155.1,2423.4h5v5h-5zM3159.9,2426.6h5v5h-5zM2910.4,2433.0h5v5h-5zM3013.4,2433.0h5v5h-5zM3040.8,2433.0h5v5h-5zM3060.1,2433.0h5v5h-5zM3069.8,2433.0h5v5h-5zM3087.5,2433.0h5v5h-5zM3092.3,2433.0h5v5h-5zM3105.2,2433.0h5v5h-5zM3114.8,2433.0h5v5h-5zM3126.1,2433.0h5v5h-5zM3140.6,2433.0h5v5h-5zM3147.0,2433.0h5v5h-5zM3158.3,2433.0h5v5h-5zM3163.1,2433.0h5v5h-5zM2965.1,2428.5h5v5h-5zM2968.4,2431.4h5v5h-5zM2974.2,2433.0h5v5h-5zM3005.4,2430.8h5v5h-5zM3022.4,2431.7h5v5h-5zM3050.4,2431.4h5v5h-5zM3079.4,2432.4h5v5h-5zM3082.6,2428.5h5v5h-5zM3097.1,2429.8h5v5h-5zM3100.3,2432.4h5v5h-5zM3130.9,2432.4h5v5h-5zM3137.4,2431.7h5v5h-5zM3151.8,2432.4h5v5h-5zM3155.1,2429.2h5v5h-5z" fill="#000" stroke="#000" stroke-width="1" stroke-linejoin="round"/>
<path d="M2842.5,2185.2h5v5h-5zM2936.8,2207.7h5v5h-5zM2871.1,2288.2h5v5h-5zM2948.1,2281.4h5v5h-5zM2956.4,2306.5h5v5h-5zM3019.2,2283.7h5v5h-5zM3039.2,2361.6h5v5h-5zM3082.6,2371.2h5v5h-5zM2822.5,2402.5h5v5h-5zM2825.4,2414.0h5v5h-5zM2920.1,2402.1h5v5h-5zM2911.1,2422.4h5v5h-5zM2968.0,2407.6h5v5h-5zM2982.2,2408.9h5v5h-5zM3002.2,2402.5h5v5h-5zM3010.8,2403.1h5v5h-5zM2956.4,2426.0h5v5h-5zM2990.9,2425.0h5v5h-5zM3024.7,2430.8h5v5h-5zM3050.4,2426.9h5v5h-5zM3070.4,2424.3h5v5h-5zM3087.5,2420.2h5v5h-5zM3116.1,2418.9h5v5h-5zM3133.2,2416.3h5v5h-5zM3076.2,2430.8h5v5h-5zM2879.8,2433.4h5v5h-5zM2896.6,2433.4h5v5h-5zM2905.6,2433.4h5v5h-5zM2936.8,2433.4h5v5h-5zM2939.4,2433.4h5v5h-5zM2982.2,2433.4h5v5h-5zM2990.9,2433.4h5v5h-5zM3022.4,2433.4h5v5h-5zM3024.7,2433.4h5v5h-5zM3047.2,2433.4h5v5h-5zM3059.1,2433.4h5v5h-5zM3068.1,2433.4h5v5h-5zM3111.6,2433.4h5v5h-5zM3116.1,2433.4h5v5h-5zM3127.7,2433.4h5v5h-5zM3132.5,2433.4h5v5h-5zM3139.0,2433.4h5v5h-5zM3147.0,2433.4h5v5h-5zM3153.4,2433.4h5v5h-5zM3162.1,2433.4h5v5h-5z" fill="#0000FF" stroke="#0000FF" stroke-width="1" stroke-linejoin="round"/>
<path d="M3013.1,2280.1h5v5h-5zM2840.2,2382.5h5v5h-5zM3118.4,2411.1h5v5h-5zM2953.6,2415.0h5v5h-5zM2870.8,2419.2h5v5h-5zM2882.1,2423.4h5v5h-5zM2899.8,2426.6h5v5h-5zM2927.8,2425.6h5v5h-5zM2977.1,2426.6h5v5h-5zM3089.7,2426.6h5v5h-5zM3107.4,2426.6h5v5h-5zM2870.8,2428.2h5v5h-5zM2981.9,2429.8h5v5h-5zM3089.7,2429.8h5v5h-5zM2853.8,2433.0h5v5h-5zM2867.6,2433.0h5v5h-5zM2872.4,2433.0h5v5h-5zM2882.7,2433.0h5v5h-5zM2899.8,2433.0h5v5h-5zM2917.5,2433.0h5v5h-5zM2920.7,2433.0h5v5h-5zM2927.8,2433.0h5v5h-5zM2936.8,2433.0h5v5h-5zM2964.8,2433.0h5v5h-5zM2973.8,2433.0h5v5h-5zM3010.8,2433.0h5v5h-5zM3024.7,2433.0h5v5h-5zM3041.4,2433.0h5v5h-5zM3044.6,2433.0h5v5h-5zM3052.7,2433.0h5v5h-5zM3062.4,2433.0h5v5h-5zM3081.7,2433.0h5v5h-5zM3104.2,2433.0h5v5h-5zM3128.3,2433.0h5v5h-5zM3147.7,2433.0h5v5h-5zM3152.5,2433.0h5v5h-5zM3162.1,2433.0h5v5h-5z" fill="#FF0000" stroke="#FF0000" stroke-width="1" stroke-linejoin="round"/>
<path d="M3560.6,360.9 L3560.6,751.7" fill="none" stroke="#222" stroke-width="5.5"/>
<path d="M3551.1,741.7 L4134.6,741.7" fill="none" stroke="#222" stroke-width="5"/>
<line x1="3551.1" y1="647.0" x2="3560.6" y2="647.0" stroke="#222" stroke-width="4"/>
<text x="3506.2" y="650.8" font-family='"Liberation Serif", serif' font-weight="bold" font-size="17.70" fill="#222" textLength="40.1" lengthAdjust="spacingAndGlyphs" >1000</text>
<line x1="3551.1" y1="552.3" x2="3560.6" y2="552.3" stroke="#222" stroke-width="4"/>
<text x="3506.9" y="556.1" font-family='"Liberation Serif", serif' font-weight="bold" font-size="17.70" fill="#222" textLength="39.4" lengthAdjust="spacingAndGlyphs" >2000</text>
<line x1="3551.1" y1="457.6" x2="3560.6" y2="457.6" stroke="#222" stroke-width="4"/>
<text x="3506.9" y="461.4" font-family='"Liberation Serif", serif' font-weight="bold" font-size="17.70" fill="#222" textLength="39.3" lengthAdjust="spacingAndGlyphs" >3000</text>
<line x1="3551.1" y1="362.9" x2="3560.6" y2="362.9" stroke="#222" stroke-width="4"/>
<text x="3507.4" y="366.7" font-family='"Liberation Serif", serif' font-weight="bold" font-size="17.70" fill="#222" textLength="38.9" lengthAdjust="spacingAndGlyphs" >4000</text>
<text x="3535.4" y="751.9" font-family='"Liberation Serif", serif' font-weight="bold" font-size="17.70" fill="#222" textLength="10.8" lengthAdjust="spacingAndGlyphs" >0</text>
<text x="3551.2" y="765.9" font-family='"Liberation Serif", serif' font-weight="bold" font-size="17.70" fill="#222" textLength="19.1" lengthAdjust="spacingAndGlyphs" >20</text>
<line x1="3703.6" y1="741.7" x2="3703.6" y2="752.2" stroke="#222" stroke-width="3.8"/>
<text x="3694.2" y="765.9" font-family='"Liberation Serif", serif' font-weight="bold" font-size="17.70" fill="#222" textLength="19.1" lengthAdjust="spacingAndGlyphs" >25</text>
<line x1="3846.6" y1="741.7" x2="3846.6" y2="752.2" stroke="#222" stroke-width="3.8"/>
<text x="3837.2" y="765.9" font-family='"Liberation Serif", serif' font-weight="bold" font-size="17.70" fill="#222" textLength="19.0" lengthAdjust="spacingAndGlyphs" >30</text>
<line x1="3989.6" y1="741.7" x2="3989.6" y2="752.2" stroke="#222" stroke-width="3.8"/>
<text x="3980.2" y="765.9" font-family='"Liberation Serif", serif' font-weight="bold" font-size="17.70" fill="#222" textLength="19.0" lengthAdjust="spacingAndGlyphs" >35</text>
<line x1="4132.6" y1="741.7" x2="4132.6" y2="752.2" stroke="#222" stroke-width="3.8"/>
<text x="4123.7" y="765.9" font-family='"Liberation Serif", serif' font-weight="bold" font-size="17.70" fill="#222" textLength="18.6" lengthAdjust="spacingAndGlyphs" >40</text>
<text x="3583.9" y="369.9" font-family='"Liberation Serif", serif' font-weight="bold" font-size="24.52" fill="#000" textLength="270.3" lengthAdjust="spacingAndGlyphs" >IAI (-) in Preterm-PROM</text>
<circle cx="3596" cy="338.7" r="7.2" fill="#000"/>
<text x="3919.0" y="405.5" font-family='"Liberation Serif", serif' font-weight="bold" font-size="13.00" fill="#FF0000" textLength="7.6" lengthAdjust="spacingAndGlyphs" >γ</text>
<text x="3926.1" y="407.0" font-family='"Liberation Serif", serif' font-weight="bold" font-size="10.00" fill="#FF0000" textLength="5.0" lengthAdjust="spacingAndGlyphs" >s</text>
<text x="3932.8" y="402.0" font-family='"Liberation Serif", serif' font-weight="bold" font-size="22.35" fill="#FF0000" textLength="76.1" lengthAdjust="spacingAndGlyphs" >= -0.570</text>
<text x="3919.6" y="428.5" font-family='"Liberation Serif", serif' font-weight="bold" font-size="22.28" fill="#FF0000" textLength="109.8" lengthAdjust="spacingAndGlyphs" >P=0.000001</text>
<text x="3839.0" y="453.6" font-family='"Liberation Serif", serif' font-weight="bold" font-size="19.02" fill="#FF0000" textLength="265.7" lengthAdjust="spacingAndGlyphs" >Spearman Rank Correlation test</text>
<text x="3703.5" y="788.4" font-family='"Liberation Serif", serif' font-weight="bold" font-size="20.97" fill="#222" textLength="363.4" lengthAdjust="spacingAndGlyphs" >Gestational age at amniocentesis (weeks)</text>
<text transform="translate(3488.0,740.2) rotate(-90)" x="0" y="0" font-family='"Liberation Serif", serif' font-weight="bold" font-size="20.92" fill="#222" textLength="377.6" lengthAdjust="spacingAndGlyphs">Amniocentesis-to-delivery interval (hours)</text>
<path d="M3632.1,439.2h5v5h-5zM3612.2,459.2h5v5h-5zM3615.1,467.5h5v5h-5zM3654.7,466.6h5v5h-5zM3740.0,491.3h5v5h-5zM3674.9,505.2h5v5h-5zM3640.5,521.6h5v5h-5zM3660.5,521.3h5v5h-5zM3623.4,546.7h5v5h-5zM3806.0,536.7h5v5h-5zM3683.6,565.4h5v5h-5zM3768.9,558.3h5v5h-5zM3768.9,577.3h5v5h-5zM3834.0,578.3h5v5h-5zM3917.0,586.6h5v5h-5zM3745.8,619.5h5v5h-5zM3862.3,620.1h5v5h-5zM3897.1,615.3h5v5h-5zM3903.2,620.1h5v5h-5zM3931.2,634.9h5v5h-5zM3794.7,629.1h5v5h-5zM3794.7,632.3h5v5h-5zM3817.2,642.0h5v5h-5zM3822.1,642.0h5v5h-5zM3834.0,641.0h5v5h-5zM3794.7,650.0h5v5h-5zM3830.7,649.7h5v5h-5zM3797.3,659.7h5v5h-5zM3859.7,661.9h5v5h-5zM3948.6,657.1h5v5h-5zM3948.6,663.6h5v5h-5zM3948.6,667.7h5v5h-5zM3871.3,668.4h5v5h-5zM3879.4,669.0h5v5h-5zM3874.5,672.6h5v5h-5zM3939.5,676.4h5v5h-5zM3635.0,671.9h5v5h-5zM3783.4,682.9h5v5h-5zM3794.7,679.6h5v5h-5zM3843.0,684.8h5v5h-5zM3888.0,688.3h5v5h-5zM3888.7,692.5h5v5h-5zM3917.0,694.1h5v5h-5zM3783.4,704.8h5v5h-5zM3817.2,701.9h5v5h-5zM3825.9,698.3h5v5h-5zM3851.0,699.0h5v5h-5zM3891.3,702.2h5v5h-5zM3899.3,703.8h5v5h-5zM3903.2,704.8h5v5h-5zM3907.4,708.6h5v5h-5zM3920.2,703.8h5v5h-5zM3931.2,701.2h5v5h-5zM3931.2,708.6h5v5h-5zM3737.7,706.4h5v5h-5zM3806.0,713.4h5v5h-5zM3846.2,710.2h5v5h-5zM3846.2,716.7h5v5h-5zM3882.6,711.8h5v5h-5zM3888.0,710.9h5v5h-5zM3910.6,715.1h5v5h-5zM3917.0,718.3h5v5h-5zM3921.8,711.8h5v5h-5zM3936.3,716.7h5v5h-5zM3954.0,716.7h5v5h-5zM3783.4,719.9h5v5h-5zM3786.6,723.7h5v5h-5zM3815.0,721.5h5v5h-5zM3882.6,721.5h5v5h-5zM3928.3,721.5h5v5h-5zM3777.6,728.9h5v5h-5zM3635.0,724.1h5v5h-5zM3683.6,730.2h5v5h-5zM3843.0,729.5h5v5h-5zM3862.3,724.7h5v5h-5zM3862.3,732.1h5v5h-5zM3874.5,726.3h5v5h-5zM3874.5,732.1h5v5h-5zM3882.6,729.5h5v5h-5zM3897.1,727.0h5v5h-5zM3909.0,727.9h5v5h-5zM3920.2,726.3h5v5h-5zM3923.5,731.2h5v5h-5zM3931.5,727.9h5v5h-5zM3936.3,726.3h5v5h-5zM3941.2,724.7h5v5h-5zM3946.0,725.7h5v5h-5zM3933.1,732.8h5v5h-5zM3939.5,732.8h5v5h-5zM3944.4,733.4h5v5h-5zM3949.2,732.8h5v5h-5zM3954.0,732.1h5v5h-5zM3815.0,735.0h5v5h-5zM3812.4,737.6h5v5h-5zM3897.1,737.6h5v5h-5zM3917.0,736.6h5v5h-5zM3926.7,736.9h5v5h-5zM3936.3,736.9h5v5h-5zM3942.8,737.6h5v5h-5zM3947.6,738.6h5v5h-5zM3929.9,735.3h5v5h-5z" fill="#000" stroke="#000" stroke-width="1" stroke-linejoin="round"/>
<path d="M3568.0,846.3 L3568.0,1237.1" fill="none" stroke="#222" stroke-width="5.5"/>
<path d="M3558.5,1227.1 L4142.0,1227.1" fill="none" stroke="#222" stroke-width="5"/>
<line x1="3558.5" y1="1132.4" x2="3568.0" y2="1132.4" stroke="#222" stroke-width="4"/>
<text x="3513.6" y="1136.2" font-family='"Liberation Serif", serif' font-weight="bold" font-size="17.70" fill="#222" textLength="40.1" lengthAdjust="spacingAndGlyphs" >1000</text>
<line x1="3558.5" y1="1037.7" x2="3568.0" y2="1037.7" stroke="#222" stroke-width="4"/>
<text x="3514.3" y="1041.5" font-family='"Liberation Serif", serif' font-weight="bold" font-size="17.70" fill="#222" textLength="39.4" lengthAdjust="spacingAndGlyphs" >2000</text>
<line x1="3558.5" y1="943.0" x2="3568.0" y2="943.0" stroke="#222" stroke-width="4"/>
<text x="3514.3" y="946.8" font-family='"Liberation Serif", serif' font-weight="bold" font-size="17.70" fill="#222" textLength="39.3" lengthAdjust="spacingAndGlyphs" >3000</text>
<line x1="3558.5" y1="848.3" x2="3568.0" y2="848.3" stroke="#222" stroke-width="4"/>
<text x="3514.8" y="852.1" font-family='"Liberation Serif", serif' font-weight="bold" font-size="17.70" fill="#222" textLength="38.9" lengthAdjust="spacingAndGlyphs" >4000</text>
<text x="3542.8" y="1237.3" font-family='"Liberation Serif", serif' font-weight="bold" font-size="17.70" fill="#222" textLength="10.8" lengthAdjust="spacingAndGlyphs" >0</text>
<text x="3558.6" y="1251.3" font-family='"Liberation Serif", serif' font-weight="bold" font-size="17.70" fill="#222" textLength="19.1" lengthAdjust="spacingAndGlyphs" >20</text>
<line x1="3711.0" y1="1227.1" x2="3711.0" y2="1237.6" stroke="#222" stroke-width="3.8"/>
<text x="3701.6" y="1251.3" font-family='"Liberation Serif", serif' font-weight="bold" font-size="17.70" fill="#222" textLength="19.1" lengthAdjust="spacingAndGlyphs" >25</text>
<line x1="3854.0" y1="1227.1" x2="3854.0" y2="1237.6" stroke="#222" stroke-width="3.8"/>
<text x="3844.6" y="1251.3" font-family='"Liberation Serif", serif' font-weight="bold" font-size="17.70" fill="#222" textLength="19.0" lengthAdjust="spacingAndGlyphs" >30</text>
<line x1="3997.0" y1="1227.1" x2="3997.0" y2="1237.6" stroke="#222" stroke-width="3.8"/>
<text x="3987.6" y="1251.3" font-family='"Liberation Serif", serif' font-weight="bold" font-size="17.70" fill="#222" textLength="19.0" lengthAdjust="spacingAndGlyphs" >35</text>
<line x1="4140.0" y1="1227.1" x2="4140.0" y2="1237.6" stroke="#222" stroke-width="3.8"/>
<text x="4131.1" y="1251.3" font-family='"Liberation Serif", serif' font-weight="bold" font-size="17.70" fill="#222" textLength="18.6" lengthAdjust="spacingAndGlyphs" >40</text>
<text x="3591.4" y="855.3" font-family='"Liberation Serif", serif' font-weight="bold" font-size="24.61" fill="#0000FF" textLength="297.3" lengthAdjust="spacingAndGlyphs" >Mild IAI in Preterm-PROM</text>
<circle cx="3603.4" cy="823.2" r="7.2" fill="#0000FF"/>
<text x="3926.7" y="889.5" font-family='"Liberation Serif", serif' font-weight="bold" font-size="13.00" fill="#FF0000" textLength="7.6" lengthAdjust="spacingAndGlyphs" >γ</text>
<text x="3933.8" y="891.0" font-family='"Liberation Serif", serif' font-weight="bold" font-size="10.00" fill="#FF0000" textLength="5.0" lengthAdjust="spacingAndGlyphs" >s</text>
<text x="3940.5" y="886.0" font-family='"Liberation Serif", serif' font-weight="bold" font-size="22.43" fill="#FF0000" textLength="76.3" lengthAdjust="spacingAndGlyphs" >= -0.565</text>
<text x="3927.1" y="913.3" font-family='"Liberation Serif", serif' font-weight="bold" font-size="22.44" fill="#FF0000" textLength="110.7" lengthAdjust="spacingAndGlyphs" >P=0.000013</text>
<text x="3847.0" y="938.0" font-family='"Liberation Serif", serif' font-weight="bold" font-size="19.02" fill="#FF0000" textLength="265.7" lengthAdjust="spacingAndGlyphs" >Spearman Rank Correlation test</text>
<text x="3710.9" y="1271.0" font-family='"Liberation Serif", serif' font-weight="bold" font-size="20.91" fill="#222" textLength="362.4" lengthAdjust="spacingAndGlyphs" >Gestational age at amniocentesis (weeks)</text>
<text transform="translate(3495.0,1224.7) rotate(-90)" x="0" y="0" font-family='"Liberation Serif", serif' font-weight="bold" font-size="20.84" fill="#222" textLength="376.1" lengthAdjust="spacingAndGlyphs">Amniocentesis-to-delivery interval (hours)</text>
<path d="M3625.1,969.3h5v5h-5zM3690.7,1058.5h5v5h-5zM3790.5,1107.8h5v5h-5zM3690.7,1129.6h5v5h-5zM3659.5,1138.7h5v5h-5zM3761.9,1140.9h5v5h-5zM3633.7,1185.7h5v5h-5zM3699.1,1184.0h5v5h-5zM3776.3,1180.2h5v5h-5zM3776.3,1186.6h5v5h-5zM3805.3,1183.4h5v5h-5zM3810.8,1193.1h5v5h-5zM3910.6,1186.6h5v5h-5zM3907.4,1189.8h5v5h-5zM3642.4,1198.8h5v5h-5zM3653.4,1200.1h5v5h-5zM3724.8,1196.3h5v5h-5zM3767.7,1199.5h5v5h-5zM3805.3,1201.1h5v5h-5zM3839.1,1198.8h5v5h-5zM3833.3,1207.5h5v5h-5zM3773.8,1208.5h5v5h-5zM3776.3,1214.6h5v5h-5zM3842.0,1213.0h5v5h-5zM3613.8,1216.6h5v5h-5zM3727.7,1215.6h5v5h-5zM3907.4,1213.0h5v5h-5zM3919.3,1216.2h5v5h-5zM3933.1,1213.0h5v5h-5zM3938.9,1213.0h5v5h-5zM3952.4,1215.6h5v5h-5zM3890.6,1217.2h5v5h-5zM3899.3,1219.4h5v5h-5zM3879.3,1220.4h5v5h-5zM3928.3,1218.8h5v5h-5zM3936.3,1218.8h5v5h-5zM3942.8,1220.4h5v5h-5zM3952.4,1220.4h5v5h-5zM3719.0,1222.0h5v5h-5zM3753.5,1223.6h5v5h-5zM3868.1,1223.6h5v5h-5zM3871.9,1222.7h5v5h-5zM3888.0,1222.7h5v5h-5zM3907.4,1223.0h5v5h-5zM3926.7,1222.7h5v5h-5zM3933.1,1223.6h5v5h-5zM3947.6,1223.6h5v5h-5zM3955.6,1222.7h5v5h-5zM3962.1,1223.6h5v5h-5z" fill="#0000FF" stroke="#0000FF" stroke-width="1" stroke-linejoin="round"/>
<path d="M3563.2,1345.4 L3563.2,1736.2" fill="none" stroke="#222" stroke-width="5.5"/>
<path d="M3553.7,1726.2 L4137.2,1726.2" fill="none" stroke="#222" stroke-width="5"/>
<line x1="3553.7" y1="1631.5" x2="3563.2" y2="1631.5" stroke="#222" stroke-width="4"/>
<text x="3508.8" y="1635.3" font-family='"Liberation Serif", serif' font-weight="bold" font-size="17.70" fill="#222" textLength="40.1" lengthAdjust="spacingAndGlyphs" >1000</text>
<line x1="3553.7" y1="1536.8" x2="3563.2" y2="1536.8" stroke="#222" stroke-width="4"/>
<text x="3509.5" y="1540.6" font-family='"Liberation Serif", serif' font-weight="bold" font-size="17.70" fill="#222" textLength="39.4" lengthAdjust="spacingAndGlyphs" >2000</text>
<line x1="3553.7" y1="1442.1" x2="3563.2" y2="1442.1" stroke="#222" stroke-width="4"/>
<text x="3509.5" y="1445.9" font-family='"Liberation Serif", serif' font-weight="bold" font-size="17.70" fill="#222" textLength="39.3" lengthAdjust="spacingAndGlyphs" >3000</text>
<line x1="3553.7" y1="1347.4" x2="3563.2" y2="1347.4" stroke="#222" stroke-width="4"/>
<text x="3510.0" y="1351.2" font-family='"Liberation Serif", serif' font-weight="bold" font-size="17.70" fill="#222" textLength="38.9" lengthAdjust="spacingAndGlyphs" >4000</text>
<text x="3538.0" y="1736.4" font-family='"Liberation Serif", serif' font-weight="bold" font-size="17.70" fill="#222" textLength="10.8" lengthAdjust="spacingAndGlyphs" >0</text>
<text x="3553.8" y="1750.4" font-family='"Liberation Serif", serif' font-weight="bold" font-size="17.70" fill="#222" textLength="19.1" lengthAdjust="spacingAndGlyphs" >20</text>
<line x1="3706.2" y1="1726.2" x2="3706.2" y2="1736.7" stroke="#222" stroke-width="3.8"/>
<text x="3696.8" y="1750.4" font-family='"Liberation Serif", serif' font-weight="bold" font-size="17.70" fill="#222" textLength="19.1" lengthAdjust="spacingAndGlyphs" >25</text>
<line x1="3849.2" y1="1726.2" x2="3849.2" y2="1736.7" stroke="#222" stroke-width="3.8"/>
<text x="3839.8" y="1750.4" font-family='"Liberation Serif", serif' font-weight="bold" font-size="17.70" fill="#222" textLength="19.0" lengthAdjust="spacingAndGlyphs" >30</text>
<line x1="3992.2" y1="1726.2" x2="3992.2" y2="1736.7" stroke="#222" stroke-width="3.8"/>
<text x="3982.8" y="1750.4" font-family='"Liberation Serif", serif' font-weight="bold" font-size="17.70" fill="#222" textLength="19.0" lengthAdjust="spacingAndGlyphs" >35</text>
<line x1="4135.2" y1="1726.2" x2="4135.2" y2="1736.7" stroke="#222" stroke-width="3.8"/>
<text x="4126.3" y="1750.4" font-family='"Liberation Serif", serif' font-weight="bold" font-size="17.70" fill="#222" textLength="18.6" lengthAdjust="spacingAndGlyphs" >40</text>
<text x="3585.0" y="1353.4" font-family='"Liberation Serif", serif' font-weight="bold" font-size="24.65" fill="#FF0000" textLength="316.9" lengthAdjust="spacingAndGlyphs" >Severe IAI in Preterm-PROM</text>
<circle cx="3598.3" cy="1322.2" r="7.2" fill="#FF0000"/>
<text x="3921.1" y="1388.5" font-family='"Liberation Serif", serif' font-weight="bold" font-size="13.00" fill="#FF0000" textLength="7.6" lengthAdjust="spacingAndGlyphs" >γ</text>
<text x="3928.2" y="1390.0" font-family='"Liberation Serif", serif' font-weight="bold" font-size="10.00" fill="#FF0000" textLength="5.0" lengthAdjust="spacingAndGlyphs" >s</text>
<text x="3934.9" y="1385.0" font-family='"Liberation Serif", serif' font-weight="bold" font-size="22.18" fill="#FF0000" textLength="75.5" lengthAdjust="spacingAndGlyphs" >= -0.363</text>
<text x="3922.3" y="1412.3" font-family='"Liberation Serif", serif' font-weight="bold" font-size="22.68" fill="#FF0000" textLength="77.8" lengthAdjust="spacingAndGlyphs" >P=0.015</text>
<text x="3841.9" y="1437.1" font-family='"Liberation Serif", serif' font-weight="bold" font-size="19.00" fill="#FF0000" textLength="265.4" lengthAdjust="spacingAndGlyphs" >Spearman Rank Correlation test</text>
<text x="3706.0" y="1770.5" font-family='"Liberation Serif", serif' font-weight="bold" font-size="20.92" fill="#222" textLength="362.5" lengthAdjust="spacingAndGlyphs" >Gestational age at amniocentesis (weeks)</text>
<text transform="translate(3491.0,1724.8) rotate(-90)" x="0" y="0" font-family='"Liberation Serif", serif' font-weight="bold" font-size="20.92" fill="#222" textLength="377.7" lengthAdjust="spacingAndGlyphs">Amniocentesis-to-delivery interval (hours)</text>
<path d="M3685.9,1547.6h5v5h-5zM3609.0,1648.1h5v5h-5zM3714.2,1652.2h5v5h-5zM3637.6,1682.5h5v5h-5zM3762.5,1691.5h5v5h-5zM3762.5,1700.5h5v5h-5zM3609.0,1704.4h5v5h-5zM3643.4,1705.0h5v5h-5zM3720.0,1700.5h5v5h-5zM3740.0,1702.8h5v5h-5zM3836.6,1700.2h5v5h-5zM3791.5,1705.0h5v5h-5zM3808.2,1707.0h5v5h-5zM3848.5,1707.6h5v5h-5zM3876.8,1706.0h5v5h-5zM3691.7,1707.0h5v5h-5zM3757.7,1713.1h5v5h-5zM3762.5,1712.4h5v5h-5zM3734.2,1714.0h5v5h-5zM3720.0,1717.3h5v5h-5zM3808.2,1716.6h5v5h-5zM3856.5,1719.5h5v5h-5zM3876.8,1718.2h5v5h-5zM3885.5,1717.3h5v5h-5zM3920.3,1718.9h5v5h-5zM3657.9,1720.5h5v5h-5zM3955.7,1721.4h5v5h-5zM3606.4,1723.1h5v5h-5zM3648.9,1723.1h5v5h-5zM3657.9,1723.1h5v5h-5zM3674.7,1723.1h5v5h-5zM3691.7,1723.1h5v5h-5zM3760.0,1723.1h5v5h-5zM3771.5,1723.1h5v5h-5zM3779.6,1723.1h5v5h-5zM3843.0,1723.1h5v5h-5zM3871.3,1723.1h5v5h-5zM3885.5,1723.1h5v5h-5zM3902.6,1723.1h5v5h-5zM3905.8,1723.1h5v5h-5zM3920.3,1723.1h5v5h-5zM3947.6,1723.1h5v5h-5zM3952.4,1723.1h5v5h-5zM3957.3,1723.1h5v5h-5z" fill="#FF0000" stroke="#FF0000" stroke-width="1" stroke-linejoin="round"/>
<path d="M3579.3,2054.7 L3579.3,2445.5" fill="none" stroke="#222" stroke-width="5.5"/>
<path d="M3569.8,2435.5 L4153.3,2435.5" fill="none" stroke="#222" stroke-width="5"/>
<line x1="3569.8" y1="2340.8" x2="3579.3" y2="2340.8" stroke="#222" stroke-width="4"/>
<text x="3524.9" y="2344.6" font-family='"Liberation Serif", serif' font-weight="bold" font-size="17.70" fill="#222" textLength="40.1" lengthAdjust="spacingAndGlyphs" >1000</text>
<line x1="3569.8" y1="2246.1" x2="3579.3" y2="2246.1" stroke="#222" stroke-width="4"/>
<text x="3525.6" y="2249.9" font-family='"Liberation Serif", serif' font-weight="bold" font-size="17.70" fill="#222" textLength="39.4" lengthAdjust="spacingAndGlyphs" >2000</text>
<line x1="3569.8" y1="2151.4" x2="3579.3" y2="2151.4" stroke="#222" stroke-width="4"/>
<text x="3525.6" y="2155.2" font-family='"Liberation Serif", serif' font-weight="bold" font-size="17.70" fill="#222" textLength="39.3" lengthAdjust="spacingAndGlyphs" >3000</text>
<line x1="3569.8" y1="2056.7" x2="3579.3" y2="2056.7" stroke="#222" stroke-width="4"/>
<text x="3526.1" y="2060.5" font-family='"Liberation Serif", serif' font-weight="bold" font-size="17.70" fill="#222" textLength="38.9" lengthAdjust="spacingAndGlyphs" >4000</text>
<text x="3554.1" y="2445.7" font-family='"Liberation Serif", serif' font-weight="bold" font-size="17.70" fill="#222" textLength="10.8" lengthAdjust="spacingAndGlyphs" >0</text>
<text x="3569.9" y="2459.7" font-family='"Liberation Serif", serif' font-weight="bold" font-size="17.70" fill="#222" textLength="19.1" lengthAdjust="spacingAndGlyphs" >20</text>
<line x1="3722.3" y1="2435.5" x2="3722.3" y2="2446.0" stroke="#222" stroke-width="3.8"/>
<text x="3712.9" y="2459.7" font-family='"Liberation Serif", serif' font-weight="bold" font-size="17.70" fill="#222" textLength="19.1" lengthAdjust="spacingAndGlyphs" >25</text>
<line x1="3865.3" y1="2435.5" x2="3865.3" y2="2446.0" stroke="#222" stroke-width="3.8"/>
<text x="3855.9" y="2459.7" font-family='"Liberation Serif", serif' font-weight="bold" font-size="17.70" fill="#222" textLength="19.0" lengthAdjust="spacingAndGlyphs" >30</text>
<line x1="4008.3" y1="2435.5" x2="4008.3" y2="2446.0" stroke="#222" stroke-width="3.8"/>
<text x="3998.9" y="2459.7" font-family='"Liberation Serif", serif' font-weight="bold" font-size="17.70" fill="#222" textLength="19.0" lengthAdjust="spacingAndGlyphs" >35</text>
<line x1="4151.3" y1="2435.5" x2="4151.3" y2="2446.0" stroke="#222" stroke-width="3.8"/>
<text x="4142.4" y="2459.7" font-family='"Liberation Serif", serif' font-weight="bold" font-size="17.70" fill="#222" textLength="18.6" lengthAdjust="spacingAndGlyphs" >40</text>
<text x="3603.0" y="2039.6" font-family='"Liberation Serif", serif' font-weight="bold" font-size="24.38" fill="#000" textLength="311.5" lengthAdjust="spacingAndGlyphs" >Total cases irrespective of IAI</text>
<text x="3602.9" y="2062.5" font-family='"Liberation Serif", serif' font-weight="bold" font-size="24.51" fill="#000" textLength="196.6" lengthAdjust="spacingAndGlyphs" >in Preterm-PROM</text>
<text x="3938.3" y="2097.8" font-family='"Liberation Serif", serif' font-weight="bold" font-size="13.00" fill="#FF0000" textLength="7.6" lengthAdjust="spacingAndGlyphs" >γ</text>
<text x="3945.4" y="2099.3" font-family='"Liberation Serif", serif' font-weight="bold" font-size="10.00" fill="#FF0000" textLength="5.0" lengthAdjust="spacingAndGlyphs" >s</text>
<text x="3952.1" y="2094.3" font-family='"Liberation Serif", serif' font-weight="bold" font-size="22.14" fill="#FF0000" textLength="75.3" lengthAdjust="spacingAndGlyphs" >= -0.368</text>
<text x="3938.4" y="2121.7" font-family='"Liberation Serif", serif' font-weight="bold" font-size="22.38" fill="#FF0000" textLength="110.3" lengthAdjust="spacingAndGlyphs" >P&lt;0.000001</text>
<text x="3858.0" y="2146.8" font-family='"Liberation Serif", serif' font-weight="bold" font-size="19.04" fill="#FF0000" textLength="266.0" lengthAdjust="spacingAndGlyphs" >Spearman Rank Correlation test</text>
<text x="3722.8" y="2481.6" font-family='"Liberation Serif", serif' font-weight="bold" font-size="20.97" fill="#222" textLength="363.4" lengthAdjust="spacingAndGlyphs" >Gestational age at amniocentesis (weeks)</text>
<text transform="translate(3507.0,2433.5) rotate(-90)" x="0" y="0" font-family='"Liberation Serif", serif' font-weight="bold" font-size="20.92" fill="#222" textLength="377.7" lengthAdjust="spacingAndGlyphs">Amniocentesis-to-delivery interval (hours)</text>
<path d="M3650.8,2133.0h5v5h-5zM3630.9,2153.0h5v5h-5zM3633.8,2161.3h5v5h-5zM3673.4,2160.4h5v5h-5zM3758.7,2185.1h5v5h-5zM3693.6,2199.0h5v5h-5zM3659.2,2215.4h5v5h-5zM3679.2,2215.1h5v5h-5zM3642.1,2240.5h5v5h-5zM3824.7,2230.5h5v5h-5zM3702.3,2259.2h5v5h-5zM3787.6,2252.1h5v5h-5zM3787.6,2271.1h5v5h-5zM3852.7,2272.1h5v5h-5zM3935.7,2280.4h5v5h-5zM3764.5,2313.3h5v5h-5zM3881.0,2313.9h5v5h-5zM3915.8,2309.1h5v5h-5zM3921.9,2313.9h5v5h-5zM3949.9,2328.7h5v5h-5zM3813.4,2322.9h5v5h-5zM3813.4,2326.1h5v5h-5zM3835.9,2335.8h5v5h-5zM3840.8,2335.8h5v5h-5zM3852.7,2334.8h5v5h-5zM3813.4,2343.8h5v5h-5zM3849.4,2343.5h5v5h-5zM3816.0,2353.5h5v5h-5zM3878.4,2355.7h5v5h-5zM3967.3,2350.9h5v5h-5zM3967.3,2357.4h5v5h-5zM3967.3,2361.5h5v5h-5zM3890.0,2362.2h5v5h-5zM3898.1,2362.8h5v5h-5zM3893.2,2366.4h5v5h-5zM3958.2,2370.2h5v5h-5zM3653.7,2365.7h5v5h-5zM3802.1,2376.7h5v5h-5zM3813.4,2373.4h5v5h-5zM3861.7,2378.6h5v5h-5zM3906.7,2382.1h5v5h-5zM3907.4,2386.3h5v5h-5zM3935.7,2387.9h5v5h-5zM3802.1,2398.6h5v5h-5zM3835.9,2395.7h5v5h-5zM3844.6,2392.1h5v5h-5zM3869.7,2392.8h5v5h-5zM3910.0,2396.0h5v5h-5zM3918.0,2397.6h5v5h-5zM3921.9,2398.6h5v5h-5zM3926.1,2402.4h5v5h-5zM3938.9,2397.6h5v5h-5zM3949.9,2395.0h5v5h-5zM3949.9,2402.4h5v5h-5zM3756.4,2400.2h5v5h-5zM3824.7,2407.2h5v5h-5zM3864.9,2404.0h5v5h-5zM3864.9,2410.5h5v5h-5zM3901.3,2405.6h5v5h-5zM3906.7,2404.7h5v5h-5zM3929.3,2408.9h5v5h-5zM3935.7,2412.1h5v5h-5zM3940.5,2405.6h5v5h-5zM3955.0,2410.5h5v5h-5zM3972.7,2410.5h5v5h-5zM3802.1,2413.7h5v5h-5zM3805.3,2417.5h5v5h-5zM3833.7,2415.3h5v5h-5zM3901.3,2415.3h5v5h-5zM3947.0,2415.3h5v5h-5zM3796.3,2422.7h5v5h-5zM3653.7,2417.9h5v5h-5zM3702.3,2424.0h5v5h-5zM3861.7,2423.3h5v5h-5zM3881.0,2418.5h5v5h-5zM3881.0,2425.9h5v5h-5zM3893.2,2420.1h5v5h-5zM3893.2,2425.9h5v5h-5zM3901.3,2423.3h5v5h-5zM3915.8,2420.8h5v5h-5zM3927.7,2421.7h5v5h-5zM3938.9,2420.1h5v5h-5zM3942.2,2425.0h5v5h-5zM3950.2,2421.7h5v5h-5zM3955.0,2420.1h5v5h-5zM3959.9,2418.5h5v5h-5zM3964.7,2419.5h5v5h-5zM3951.8,2426.6h5v5h-5zM3958.2,2426.6h5v5h-5zM3963.1,2427.2h5v5h-5zM3967.9,2426.6h5v5h-5zM3972.7,2425.9h5v5h-5zM3833.7,2428.8h5v5h-5zM3831.1,2431.4h5v5h-5zM3915.8,2431.4h5v5h-5zM3935.7,2430.4h5v5h-5zM3945.4,2430.7h5v5h-5zM3955.0,2430.7h5v5h-5zM3961.5,2431.4h5v5h-5zM3966.3,2432.4h5v5h-5zM3948.6,2429.1h5v5h-5z" fill="#000" stroke="#000" stroke-width="1" stroke-linejoin="round"/>
<path d="M3636.4,2177.7h5v5h-5zM3702.0,2266.9h5v5h-5zM3801.8,2316.2h5v5h-5zM3702.0,2338.0h5v5h-5zM3670.8,2347.1h5v5h-5zM3773.2,2349.3h5v5h-5zM3645.0,2394.1h5v5h-5zM3710.4,2392.4h5v5h-5zM3787.6,2388.6h5v5h-5zM3787.6,2395.0h5v5h-5zM3816.6,2391.8h5v5h-5zM3822.1,2401.5h5v5h-5zM3921.9,2395.0h5v5h-5zM3918.7,2398.2h5v5h-5zM3653.7,2407.2h5v5h-5zM3664.7,2408.5h5v5h-5zM3736.1,2404.7h5v5h-5zM3779.0,2407.9h5v5h-5zM3816.6,2409.5h5v5h-5zM3850.4,2407.2h5v5h-5zM3844.6,2415.9h5v5h-5zM3785.1,2416.9h5v5h-5zM3787.6,2423.0h5v5h-5zM3853.3,2421.4h5v5h-5zM3625.1,2425.0h5v5h-5zM3739.0,2424.0h5v5h-5zM3918.7,2421.4h5v5h-5zM3930.6,2424.6h5v5h-5zM3944.4,2421.4h5v5h-5zM3950.2,2421.4h5v5h-5zM3963.7,2424.0h5v5h-5zM3901.9,2425.6h5v5h-5zM3910.6,2427.8h5v5h-5zM3890.6,2428.8h5v5h-5zM3939.6,2427.2h5v5h-5zM3947.6,2427.2h5v5h-5zM3954.1,2428.8h5v5h-5zM3963.7,2428.8h5v5h-5zM3730.3,2430.4h5v5h-5zM3764.8,2432.0h5v5h-5zM3879.4,2432.0h5v5h-5zM3883.2,2431.1h5v5h-5zM3899.3,2431.1h5v5h-5zM3918.7,2431.4h5v5h-5zM3938.0,2431.1h5v5h-5zM3944.4,2432.0h5v5h-5zM3958.9,2432.0h5v5h-5zM3966.9,2431.1h5v5h-5zM3973.4,2432.0h5v5h-5z" fill="#0000FF" stroke="#0000FF" stroke-width="1" stroke-linejoin="round"/>
<path d="M3702.0,2256.9h5v5h-5zM3625.1,2357.4h5v5h-5zM3730.3,2361.5h5v5h-5zM3653.7,2391.8h5v5h-5zM3778.6,2400.8h5v5h-5zM3778.6,2409.8h5v5h-5zM3625.1,2413.7h5v5h-5zM3659.5,2414.3h5v5h-5zM3736.1,2409.8h5v5h-5zM3756.1,2412.1h5v5h-5zM3852.7,2409.5h5v5h-5zM3807.6,2414.3h5v5h-5zM3824.3,2416.3h5v5h-5zM3864.6,2416.9h5v5h-5zM3892.9,2415.3h5v5h-5zM3707.8,2416.3h5v5h-5zM3773.8,2422.4h5v5h-5zM3778.6,2421.7h5v5h-5zM3750.3,2423.3h5v5h-5zM3736.1,2426.6h5v5h-5zM3824.3,2425.9h5v5h-5zM3872.6,2428.8h5v5h-5zM3892.9,2427.5h5v5h-5zM3901.6,2426.6h5v5h-5zM3936.4,2428.2h5v5h-5zM3674.0,2429.8h5v5h-5zM3971.8,2430.7h5v5h-5zM3622.5,2432.4h5v5h-5zM3665.0,2432.4h5v5h-5zM3674.0,2432.4h5v5h-5zM3690.8,2432.4h5v5h-5zM3707.8,2432.4h5v5h-5zM3776.1,2432.4h5v5h-5zM3787.6,2432.4h5v5h-5zM3795.7,2432.4h5v5h-5zM3859.1,2432.4h5v5h-5zM3887.4,2432.4h5v5h-5zM3901.6,2432.4h5v5h-5zM3918.7,2432.4h5v5h-5zM3921.9,2432.4h5v5h-5zM3936.4,2432.4h5v5h-5zM3963.7,2432.4h5v5h-5zM3968.5,2432.4h5v5h-5zM3973.4,2432.4h5v5h-5z" fill="#FF0000" stroke="#FF0000" stroke-width="1" stroke-linejoin="round"/>
<path d="M3000.5,1792.5 L3050.5,1818 L3025.3,1818 L3025.3,1843 L2975.7,1843 L2975.7,1818 L2950.5,1818 Z" fill="#000"/>
<rect x="2642.0" y="1843.0" width="765.3" height="161.4" fill="#fff" stroke="#7a7a7a" stroke-width="2.4" />
<text x="2830.5" y="1887.5" font-family='"Liberation Sans", sans-serif' font-weight="bold" font-size="41.46" fill="#000" textLength="387.0" lengthAdjust="spacingAndGlyphs" >Sub-divided graphs</text>
<text x="2716.8" y="1937.2" font-family='"Liberation Sans", sans-serif' font-weight="bold" font-size="41.37" fill="#000" textLength="613.8" lengthAdjust="spacingAndGlyphs" >into IAI (-), mild IAI &amp; severe IAI</text>
<text x="2821.3" y="1986.9" font-family='"Liberation Sans", sans-serif' font-weight="bold" font-size="41.16" fill="#000" textLength="404.9" lengthAdjust="spacingAndGlyphs" >from PTL total cases</text>
<path d="M3827,1792.5 L3877,1818 L3851.8,1818 L3851.8,1843 L3802.2,1843 L3802.2,1818 L3777,1818 Z" fill="#000"/>
<rect x="3427.1" y="1843.0" width="757.0" height="163.3" fill="#fff" stroke="#7a7a7a" stroke-width="2.4" />
<text x="3612.2" y="1887.5" font-family='"Liberation Sans", sans-serif' font-weight="bold" font-size="41.33" fill="#000" textLength="385.8" lengthAdjust="spacingAndGlyphs" >Sub-divided graphs</text>
<text x="3497.7" y="1936.1" font-family='"Liberation Sans", sans-serif' font-weight="bold" font-size="41.44" fill="#000" textLength="614.8" lengthAdjust="spacingAndGlyphs" >into IAI (-), mild IAI &amp; severe IAI</text>
<text x="3496.7" y="1984.6" font-family='"Liberation Sans", sans-serif' font-weight="bold" font-size="41.18" fill="#000" textLength="617.9" lengthAdjust="spacingAndGlyphs" >from preterm-PROM total cases</text>
</svg></body></html>
